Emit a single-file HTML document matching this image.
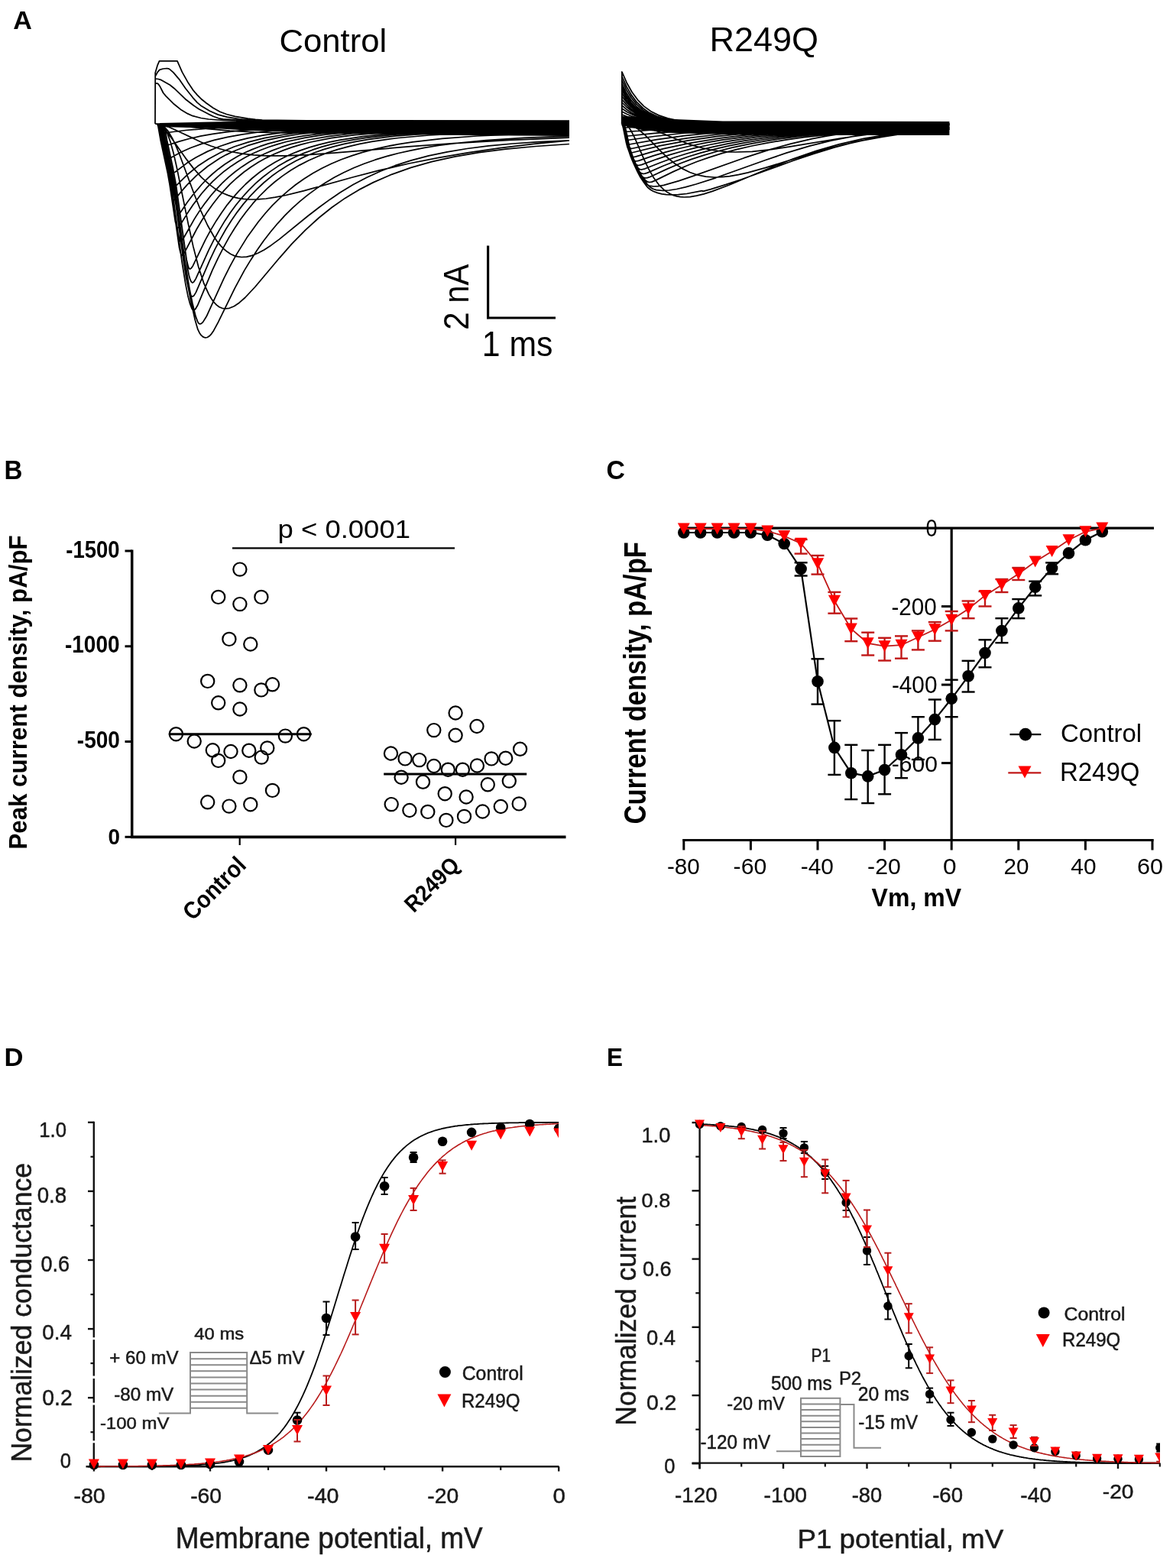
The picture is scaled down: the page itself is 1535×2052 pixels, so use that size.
<!DOCTYPE html>
<html><head><meta charset="utf-8"><title>Figure</title>
<style>
html,body{margin:0;padding:0;background:#fff;}
svg{display:block;}
text{font-family:"Liberation Sans",Arial,sans-serif;}
</style></head><body>
<svg width="1535" height="2052" viewBox="0 0 1535 2052">
<rect width="1535" height="2052" fill="#fff"/>
<text x="17.3" y="38.4" font-size="34.0" font-weight="bold" textLength="24.6" lengthAdjust="spacingAndGlyphs" fill="#000">A</text>
<text x="5.6" y="626.5" font-size="34.2" font-weight="bold" textLength="23.9" lengthAdjust="spacingAndGlyphs" fill="#000">B</text>
<text x="793.4" y="627.1" font-size="35.4" font-weight="bold" textLength="24.4" lengthAdjust="spacingAndGlyphs" fill="#000">C</text>
<text x="5.5" y="1394.5" font-size="34.0" font-weight="bold" textLength="25.0" lengthAdjust="spacingAndGlyphs" fill="#000">D</text>
<text x="793.9" y="1394.5" font-size="34.0" font-weight="bold" textLength="21.0" lengthAdjust="spacingAndGlyphs" fill="#000">E</text>
<text x="365.5" y="67.6" font-size="43.4" font-weight="normal" textLength="140.8" lengthAdjust="spacingAndGlyphs" fill="#000">Control</text>
<text x="928.6" y="67.2" font-size="44.6" font-weight="normal" textLength="142.5" lengthAdjust="spacingAndGlyphs" fill="#000">R249Q</text>
<line x1="638.6" y1="321.5" x2="638.6" y2="417.2" stroke="#000" stroke-width="3.2"/>
<line x1="637.0" y1="416.0" x2="727.0" y2="416.0" stroke="#000" stroke-width="3.2"/>
<text transform="rotate(-90)" x="-431.7" y="613.4" font-size="45.7" font-weight="normal" textLength="86.2" lengthAdjust="spacingAndGlyphs" fill="#000">2 nA</text>
<text x="630.8" y="465.5" font-size="45.8" font-weight="normal" textLength="92.7" lengthAdjust="spacingAndGlyphs" fill="#000">1 ms</text>
<polygon points="209,161 300,159 345,157.5 745,159.5 745,178 600,177 420,174.5 330,171 280,168 209,166" fill="#000"/>
<polygon points="814,152 840,153 870,155.5 946,158.5 1242.4,159 1242.4,177 1100,177 950,176 880,174 840,170 814,164" fill="#000"/>
<path d="M203.0 162.0 203.2 95.3 206.0 85.7 208.5 79.8 232.0 79.9 238.4 94.4 246.4 108.6 252.4 117.6 258.2 124.4 264.2 130.3 270.1 135.0 278.9 141.3 287.8 146.3 296.5 149.5 307.6 152.3 324.2 155.1 334.3 156.3 343.2 157.0 401.8 157.9 745.0 158.0 M203.0 162.0 203.2 99.7 206.4 94.1 208.8 91.4 213.4 90.0 218.4 89.5 220.3 89.8 222.3 90.8 226.9 94.9 235.4 104.9 242.8 115.7 252.4 127.8 258.0 134.1 262.8 138.2 274.5 145.3 285.5 150.1 297.0 153.1 313.3 155.9 326.7 157.0 398.9 157.9 745.0 158.0 M203.0 162.0 203.2 103.0 207.2 103.5 211.0 104.7 222.5 111.2 228.0 115.7 242.6 129.7 253.3 138.0 260.3 142.7 272.4 149.1 279.6 152.5 286.0 154.8 291.9 155.9 313.4 157.4 335.4 158.0 520.4 158.8 745.0 159.0 M203.0 162.0 203.2 109.0 206.0 109.2 207.2 110.0 209.2 112.9 213.6 121.5 217.2 125.9 226.5 135.2 237.5 144.1 245.8 148.9 252.2 151.7 263.0 154.5 272.9 156.0 292.2 157.5 309.0 158.0 503.4 158.8 745.0 159.0 M203.0 162.0 210.6 162.0 211.3 163.0 212.0 165.5 215.2 184.0 223.0 220.3 227.1 242.3 241.4 347.2 245.1 369.8 249.2 391.2 255.2 418.5 258.9 431.2 261.1 435.7 263.4 438.9 266.2 441.2 268.8 442.0 271.3 441.5 274.0 439.8 276.8 436.8 279.6 432.7 285.3 422.2 307.3 377.1 319.8 353.9 328.0 340.4 336.5 327.3 345.1 315.0 354.2 303.3 363.4 292.3 372.9 281.9 382.8 272.1 392.9 263.1 403.4 254.6 414.3 246.6 425.7 239.2 437.3 232.3 449.9 225.8 462.8 219.8 476.5 214.3 490.8 209.2 505.7 204.6 521.4 200.5 537.9 196.8 555.4 193.4 573.6 190.5 593.1 187.8 636.1 183.5 685.9 180.4 745.0 178.2 M203.0 162.0 212.2 162.0 212.9 163.2 213.6 165.8 216.8 184.4 224.6 220.9 228.7 243.0 242.5 344.8 248.0 377.8 251.9 397.0 256.1 414.1 258.9 421.5 260.3 423.4 261.8 424.0 263.5 423.4 265.5 421.6 270.1 414.3 293.1 364.1 300.9 348.6 308.8 334.1 323.0 311.1 338.1 290.2 347.3 279.0 356.6 268.7 366.4 259.1 376.5 250.1 386.9 241.8 397.9 234.0 409.4 226.8 421.2 220.3 433.6 214.3 446.6 208.8 460.2 203.9 474.3 199.4 489.4 195.4 505.1 191.8 522.0 188.6 539.8 185.8 578.8 181.3 624.1 178.0 678.1 175.6 745.0 174.1 M203.0 162.0 208.3 162.1 209.7 166.6 212.7 184.4 220.5 220.8 224.6 243.0 238.0 342.2 242.8 371.6 245.8 386.7 248.5 397.1 251.1 403.9 252.2 405.4 253.4 406.0 254.5 405.7 255.7 404.5 258.8 399.2 278.0 353.4 285.3 337.9 292.6 323.7 299.6 310.9 306.9 299.0 314.3 287.8 322.1 277.2 331.0 266.2 340.2 256.0 349.7 246.6 359.6 238.0 369.9 230.1 380.7 222.8 392.0 216.1 403.9 210.0 415.9 204.7 428.5 199.9 441.8 195.6 455.8 191.8 470.6 188.4 486.4 185.4 503.4 182.8 521.6 180.5 561.4 177.0 609.0 174.5 667.8 172.9 745.0 172.0 M203.0 162.0 210.3 162.0 211.0 163.1 211.7 165.7 214.9 184.3 222.8 221.5 226.9 243.8 240.0 340.5 243.5 362.6 245.8 374.2 248.0 382.3 249.9 386.6 250.8 387.6 251.9 388.0 252.9 387.6 254.0 386.6 256.5 382.4 274.2 341.1 281.4 325.9 288.7 312.1 295.7 299.8 303.0 288.3 310.4 277.6 318.2 267.4 326.9 257.2 335.9 247.8 345.3 239.0 355.2 230.8 365.5 223.4 376.1 216.7 387.3 210.5 399.1 204.9 411.0 200.0 423.4 195.7 436.5 191.8 450.4 188.3 465.3 185.3 481.1 182.6 516.1 178.2 556.1 175.2 604.3 173.1 664.3 171.8 745.0 171.0 M203.0 162.0 214.0 162.0 215.2 164.9 218.6 184.2 226.4 220.6 230.4 242.6 245.5 351.0 247.2 359.9 248.8 365.7 250.3 368.9 251.9 370.0 252.7 369.7 253.8 368.7 256.3 364.6 273.1 327.3 280.0 313.6 287.3 300.6 294.3 288.9 301.6 278.1 309.0 268.0 316.8 258.5 325.5 248.9 334.3 240.2 343.7 232.0 353.4 224.6 363.7 217.6 374.3 211.4 385.5 205.7 397.2 200.6 408.9 196.2 421.2 192.2 434.3 188.7 448.1 185.5 462.8 182.8 478.6 180.3 513.6 176.4 553.6 173.7 602.0 171.8 662.7 170.7 745.0 170.0 M203.0 162.0 214.0 162.0 215.2 164.8 218.6 184.0 226.4 220.3 230.4 242.2 244.1 339.7 246.4 349.1 247.4 351.2 248.7 352.0 250.3 351.1 252.4 347.9 268.8 313.8 275.7 301.1 283.0 288.9 290.1 278.2 297.3 268.1 305.0 258.6 312.7 249.8 321.4 241.0 330.3 233.0 339.6 225.5 349.4 218.7 359.6 212.4 370.3 206.7 381.4 201.5 393.1 196.9 404.8 192.9 417.2 189.3 430.3 186.1 444.1 183.3 474.5 178.6 509.7 175.1 549.9 172.7 598.8 171.1 660.4 170.1 745.0 169.5 M203.0 162.0 206.7 162.2 208.1 166.6 211.1 184.3 218.8 219.5 222.8 241.3 234.5 323.7 236.3 331.3 237.2 333.3 238.2 334.0 239.6 333.2 241.4 330.7 257.3 300.0 264.2 288.2 271.5 276.9 278.6 267.0 286.0 257.5 293.6 248.8 301.4 240.7 310.1 232.7 319.1 225.3 328.5 218.5 338.2 212.3 348.5 206.6 359.1 201.5 370.4 196.9 382.3 192.7 394.0 189.2 406.4 186.0 433.5 180.7 464.3 176.6 500.0 173.6 540.9 171.6 591.2 170.2 655.1 169.4 745.0 169.0 M203.0 162.0 207.4 162.1 208.8 166.2 212.0 184.6 219.5 218.9 223.2 238.4 233.3 307.3 234.9 313.8 235.7 315.5 236.6 316.0 237.9 315.2 239.3 313.3 254.5 286.4 261.4 275.6 268.5 265.6 275.7 256.3 283.2 247.6 290.8 239.7 298.8 232.2 307.4 225.0 316.3 218.4 325.7 212.3 335.4 206.7 345.7 201.5 356.5 196.9 367.8 192.7 379.6 188.9 403.7 183.0 430.6 178.3 461.4 174.7 497.4 172.0 538.4 170.2 588.9 169.0 653.5 168.3 745.0 168.0 M203.0 162.0 206.0 162.2 207.2 165.8 210.4 184.2 217.7 217.6 221.2 235.8 229.4 290.0 231.0 296.1 231.7 297.4 232.6 298.0 233.6 297.5 235.2 295.5 244.6 280.1 252.0 268.9 263.7 253.5 270.8 245.4 278.2 237.6 286.0 230.4 294.0 223.7 302.5 217.4 311.5 211.4 320.9 206.0 330.6 201.0 340.9 196.5 351.5 192.5 362.8 188.8 374.7 185.5 398.6 180.3 425.7 176.2 456.5 173.1 492.4 170.9 533.6 169.3 584.6 168.4 745.0 167.5 M203.0 162.0 209.5 162.0 210.8 164.8 214.3 184.7 224.2 231.4 231.0 273.4 232.4 278.6 233.1 279.7 233.8 280.0 234.9 279.4 236.3 277.8 244.9 265.0 252.0 255.4 263.9 241.5 271.0 234.2 278.2 227.5 285.8 221.2 293.8 215.3 302.3 209.7 311.1 204.5 320.4 199.8 329.9 195.6 340.0 191.7 350.6 188.2 373.5 182.2 397.0 177.8 423.7 174.3 454.2 171.7 489.9 169.8 531.0 168.5 582.0 167.7 745.0 167.0 M203.0 162.0 205.7 162.1 206.9 165.2 210.3 184.3 219.5 227.1 224.6 256.0 225.8 260.5 226.5 261.7 227.2 262.0 229.4 260.4 237.9 249.8 244.9 241.8 257.2 229.6 271.7 217.7 287.4 207.3 295.9 202.6 305.0 198.2 323.9 190.7 344.8 184.4 368.1 179.3 392.0 175.5 418.9 172.6 449.7 170.4 486.0 168.8 527.4 167.8 579.1 167.1 745.0 166.5 M203.0 162.0 209.7 162.0 210.6 163.6 214.5 184.7 225.7 236.8 227.2 242.5 228.0 243.6 228.7 244.0 230.6 242.9 246.2 227.7 258.6 217.6 273.1 207.9 288.8 199.5 306.4 192.0 325.3 185.9 346.2 180.7 369.6 176.5 393.5 173.5 420.4 171.1 451.2 169.2 487.4 167.9 580.4 166.5 745.0 166.0 M203.0 162.0 211.5 162.0 212.4 163.3 216.5 185.0 223.9 218.4 225.7 224.4 226.5 225.7 227.4 226.0 229.4 225.0 244.4 213.6 257.0 205.7 271.7 198.1 287.6 191.5 305.1 185.7 324.2 180.9 345.3 176.9 368.7 173.7 392.6 171.3 419.6 169.4 450.6 168.0 486.9 167.0 580.0 165.9 745.0 165.5 M203.0 162.0 208.0 162.0 208.7 163.0 209.9 168.0 212.7 184.4 216.5 201.0 218.2 206.7 218.9 207.7 219.8 208.0 221.6 207.4 236.6 199.2 249.4 193.5 264.2 188.1 280.2 183.4 297.9 179.3 317.2 175.8 338.4 173.0 361.9 170.7 386.0 169.0 413.3 167.7 481.2 166.0 575.8 165.2 745.0 165.0 M203.0 162.0 211.7 162.0 212.2 162.3 213.6 167.1 217.2 186.5 218.0 189.2 219.3 190.0 234.5 185.1 247.6 181.5 262.3 178.2 278.2 175.3 295.6 172.9 314.7 170.8 359.1 167.8 409.9 166.1 477.5 165.1 745.0 164.5 M203.0 162.0 211.3 162.2 212.4 165.2 214.0 173.2 214.7 174.0 243.0 170.5 274.7 168.0 312.0 166.1 357.5 164.9 478.2 163.7 745.0 163.5 M203.0 162.0 207.1 162.1 209.7 162.7 212.0 164.0 214.3 166.2 216.6 169.6 218.8 173.9 223.2 186.2 226.9 199.7 231.1 218.1 246.2 292.3 252.9 322.9 259.8 349.5 266.5 370.1 273.1 384.9 276.5 390.7 279.8 395.4 283.4 399.1 286.9 401.7 290.6 403.3 294.5 404.0 300.2 403.3 306.4 400.7 313.1 396.2 320.7 389.5 333.8 375.5 365.5 337.8 381.9 319.2 399.6 301.1 417.3 285.0 434.2 271.5 451.5 259.4 469.7 248.4 488.7 238.6 512.4 228.3 537.7 219.4 565.0 211.7 594.5 205.1 626.6 199.7 661.8 195.1 700.9 191.5 745.0 188.5 M203.0 162.0 206.5 162.1 209.4 162.7 212.0 163.9 214.7 165.7 220.0 171.7 225.5 180.9 230.1 190.6 235.2 203.0 254.3 254.5 262.8 275.8 271.7 295.0 280.3 310.2 284.6 316.4 288.8 321.6 293.1 326.0 297.5 329.6 301.9 332.5 306.5 334.6 311.3 335.9 316.1 336.5 322.8 336.1 329.9 334.4 337.5 331.3 345.7 326.9 354.9 320.9 365.5 313.1 402.8 282.8 418.4 270.7 431.9 260.9 445.0 252.1 462.3 241.6 480.0 232.3 498.1 224.0 517.0 216.7 538.2 209.8 560.9 203.8 585.1 198.8 611.2 194.5 639.5 190.9 670.8 188.0 705.7 185.7 745.0 183.9 M203.0 162.0 206.0 162.5 209.2 164.2 212.7 166.9 216.6 170.9 223.9 180.0 242.6 206.6 252.6 219.6 263.4 231.8 274.2 241.6 280.0 245.9 286.0 249.7 292.2 253.0 298.6 255.6 305.1 257.8 311.9 259.3 318.9 260.4 326.4 261.0 336.8 260.9 348.0 260.0 360.2 258.2 374.0 255.5 397.9 249.6 461.4 232.0 496.5 222.9 535.1 214.0 574.0 206.3 613.5 199.6 654.7 193.7 698.4 188.4 745.0 183.8 M203.0 162.0 210.8 162.9 219.8 165.8 228.8 169.7 263.2 186.0 275.9 191.0 288.5 195.0 302.3 198.5 316.8 201.1 332.2 202.8 348.7 203.8 373.1 203.9 402.3 202.6 437.0 200.1 537.7 191.7 593.5 187.6 666.4 183.4 745.0 180.1 M203.0 162.0 222.6 163.1 271.9 168.6 300.7 171.2 332.4 172.9 367.8 173.8 443.0 173.7 627.8 170.9 745.0 169.5 M813.7 162.0 813.9 94.0 820.1 108.2 827.0 120.5 834.4 130.6 842.7 139.1 851.8 145.7 862.0 150.9 873.9 154.9 887.7 157.8 900.3 159.4 915.1 160.5 956.5 161.7 1242.9 162.0 M813.7 162.0 813.9 100.0 819.9 113.4 826.3 124.4 833.3 133.7 841.3 141.5 850.0 147.6 859.9 152.3 871.2 155.9 884.5 158.4 896.5 159.8 910.7 160.8 950.7 161.8 1242.9 162.0 M813.7 162.0 813.9 105.0 819.7 117.4 826.1 127.8 833.0 136.4 840.6 143.4 849.1 148.9 858.7 153.3 869.8 156.5 882.9 158.8 894.6 160.1 908.4 160.9 947.7 161.8 1242.9 162.0 M813.7 162.0 813.9 110.0 819.5 121.3 825.7 130.9 832.5 138.8 839.9 145.2 848.2 150.3 857.6 154.2 868.4 157.1 881.1 159.2 905.9 161.0 944.5 161.8 1242.9 162.0 M813.7 162.0 813.9 114.0 819.4 124.5 825.4 133.5 831.9 140.8 839.2 146.7 847.2 151.3 856.4 155.0 867.0 157.6 879.5 159.5 903.8 161.2 941.5 161.8 1242.9 162.0 M813.7 162.0 813.9 118.0 819.5 127.6 825.7 135.7 832.5 142.4 839.9 147.8 848.2 152.1 857.6 155.4 868.4 157.9 881.1 159.6 905.9 161.2 944.5 161.8 1242.9 162.0 M813.7 162.0 813.9 122.0 819.5 130.7 825.7 138.1 832.5 144.2 839.9 149.1 848.2 153.0 857.6 156.0 868.4 158.3 881.1 159.8 905.9 161.3 944.5 161.9 1242.9 162.0 M813.7 162.0 813.9 126.0 819.7 133.8 826.1 140.4 833.0 145.8 840.6 150.2 849.1 153.8 858.7 156.5 869.8 158.5 882.9 160.0 908.4 161.3 947.7 161.9 1242.9 162.0 M813.7 162.0 813.9 130.0 819.7 136.9 826.1 142.8 833.0 147.6 840.6 151.5 849.1 154.7 858.7 157.1 869.8 158.9 882.9 160.2 908.4 161.4 947.7 161.9 1242.9 162.0 M813.7 162.0 813.9 134.0 819.9 140.0 826.3 145.0 833.3 149.2 841.3 152.7 850.0 155.5 859.9 157.6 871.2 159.2 884.5 160.4 910.7 161.4 950.7 161.9 1242.9 162.0 M813.7 162.0 813.9 138.0 819.9 143.2 826.3 147.4 833.3 151.1 841.3 154.1 850.0 156.4 859.9 158.3 871.2 159.6 884.5 160.6 910.7 161.5 950.7 161.9 1242.9 162.0 M813.7 162.0 813.9 142.0 820.1 146.2 827.0 149.8 834.4 152.8 842.7 155.3 851.8 157.2 862.0 158.7 887.7 160.8 915.1 161.6 956.5 161.9 1242.9 162.0 M813.7 162.0 813.9 146.0 820.1 149.3 827.0 152.2 834.4 154.6 842.7 156.6 862.0 159.4 887.7 161.0 915.1 161.6 956.5 161.9 1242.9 162.0 M813.7 162.0 813.9 150.0 820.4 152.5 827.7 154.6 844.1 157.9 864.3 160.0 890.9 161.2 962.2 161.9 1242.9 162.0 M813.7 162.0 813.9 154.0 828.6 157.0 846.1 159.2 867.5 160.6 895.3 161.4 970.2 161.9 1242.9 162.0 M813.7 162.0 813.9 158.0 830.2 159.5 849.3 160.5 902.2 161.7 1242.9 162.0 M813.7 162.0 814.8 163.4 815.8 166.6 821.0 191.6 825.0 203.9 828.9 213.5 834.1 224.6 837.9 231.8 842.4 238.6 845.7 243.1 848.7 246.3 851.6 248.5 855.3 250.5 860.3 252.4 866.1 253.8 871.9 254.7 878.1 255.0 887.7 254.7 898.7 253.5 918.8 249.7 919.7 250.1 921.0 250.1 930.2 247.6 949.5 241.7 970.3 234.8 1038.1 210.3 1064.5 201.3 1092.1 192.8 1118.7 185.9 1147.2 179.8 1176.7 174.9 1208.2 171.0 1242.9 168.0 M813.7 162.0 816.2 162.1 817.2 163.8 819.0 170.4 822.9 190.0 825.4 198.3 832.6 216.6 836.9 225.5 840.6 232.1 847.0 241.1 849.6 244.0 852.1 245.9 855.3 247.5 858.8 248.6 867.7 249.5 875.7 249.0 885.4 247.5 896.9 244.8 910.9 241.0 936.5 232.8 1001.0 209.7 1029.1 200.2 1059.2 191.2 1088.4 183.9 1122.2 177.4 1158.1 172.3 1197.6 168.5 1242.9 165.8 M813.7 162.0 814.8 163.5 816.0 167.5 820.2 188.6 822.2 195.7 827.3 209.6 834.2 224.6 839.2 233.1 842.4 237.4 845.2 240.4 847.3 242.0 849.6 243.1 855.6 244.0 861.3 243.6 868.6 242.3 888.6 236.6 912.1 228.7 973.7 206.7 1007.0 195.9 1035.0 188.1 1062.7 181.7 1081.3 178.2 1100.4 175.1 1120.3 172.5 1141.3 170.2 1187.7 166.8 1242.9 164.4 M813.7 162.0 816.4 162.1 817.6 164.3 819.0 169.6 824.0 193.4 828.6 206.5 834.4 220.0 838.8 228.6 842.6 234.0 846.3 237.4 848.0 238.2 849.8 238.5 852.8 238.1 857.1 236.4 881.1 224.6 897.8 217.2 912.1 211.5 926.8 206.4 944.9 200.7 963.8 195.6 983.8 191.0 1004.9 186.9 1027.7 183.1 1052.1 179.7 1078.1 176.8 1105.9 174.2 1168.4 170.1 1242.9 167.3 M813.7 162.0 815.1 162.3 816.4 165.1 822.2 192.5 825.7 202.9 829.8 212.9 834.4 222.7 837.9 228.6 841.3 231.9 843.1 232.7 844.9 233.0 847.3 232.7 850.7 231.5 873.0 221.1 889.8 214.0 904.9 208.4 920.4 203.3 938.8 198.0 958.3 193.1 978.7 188.8 1000.3 184.8 1023.4 181.3 1048.2 178.2 1074.6 175.5 1103.1 173.1 1166.6 169.3 1242.9 166.7 M813.7 162.0 815.5 162.3 816.7 164.9 822.6 192.1 825.6 201.1 829.3 210.5 833.2 219.0 836.2 224.1 838.8 226.7 841.8 227.5 844.1 227.2 847.3 226.1 868.2 217.0 885.4 210.3 900.8 205.0 916.7 200.1 935.3 195.2 954.9 190.7 975.7 186.6 997.4 183.0 1020.8 179.7 1045.7 176.8 1072.5 174.3 1101.1 172.1 1165.6 168.7 1242.9 166.3 M813.7 162.0 815.8 162.1 817.2 164.8 823.1 191.9 829.1 208.6 832.1 215.1 834.6 219.3 836.7 221.3 839.2 222.0 844.1 220.8 864.3 212.7 881.3 206.5 897.1 201.5 913.5 196.9 932.3 192.3 952.1 188.2 973.0 184.4 994.9 181.1 1018.7 178.1 1043.8 175.5 1099.6 171.2 1164.7 168.0 1242.9 165.8 M813.7 162.0 814.8 162.0 815.3 162.4 816.5 165.3 822.0 191.1 826.6 204.5 829.1 210.2 831.2 213.8 833.2 215.8 835.5 216.5 839.5 215.6 859.4 208.3 876.4 202.7 892.5 198.0 909.3 193.7 928.4 189.5 948.4 185.7 969.5 182.3 991.8 179.2 1041.0 174.1 1097.4 170.2 1163.5 167.4 1242.9 165.4 M813.7 162.0 814.8 162.8 816.0 166.2 821.0 189.9 824.3 200.3 826.4 205.5 828.2 208.7 830.0 210.4 832.1 211.0 835.6 210.3 854.8 203.9 871.8 198.8 888.2 194.5 905.6 190.5 924.9 186.7 945.0 183.2 988.9 177.4 1038.7 172.8 1095.7 169.3 1162.4 166.7 1242.9 165.0 M813.7 162.1 814.8 163.6 815.8 167.0 820.4 189.2 822.7 196.8 825.9 203.7 827.3 205.1 829.1 205.5 832.3 204.9 851.0 199.3 868.2 194.7 902.4 187.3 942.2 180.8 986.5 175.6 1036.5 171.5 1094.1 168.4 1161.3 166.1 1242.9 164.6 M813.7 162.4 814.8 164.6 815.8 168.5 819.5 186.8 821.1 193.0 823.6 198.5 824.9 199.7 826.3 200.0 864.5 190.7 899.2 184.1 939.2 178.4 984.0 173.8 1034.4 170.2 1092.3 167.5 1160.3 165.6 1242.9 164.2 M813.7 162.0 815.8 162.2 816.9 164.0 818.5 169.8 822.9 190.7 824.5 193.7 826.4 194.5 863.6 186.7 898.8 180.9 939.0 176.0 983.8 172.1 1034.2 169.0 1092.3 166.7 1160.3 165.0 1242.9 163.9 M813.7 162.0 814.6 162.0 815.1 162.6 816.4 165.6 821.1 187.2 822.0 188.7 823.3 189.0 859.7 182.6 895.5 177.7 936.0 173.6 981.1 170.3 1031.9 167.8 1090.5 165.9 1159.2 164.5 1242.9 163.6 M813.7 162.1 814.6 163.4 815.6 166.6 819.0 181.9 819.7 183.3 820.6 183.5 856.0 178.5 892.5 174.5 933.2 171.2 978.8 168.6 1030.0 166.6 1088.9 165.0 1158.3 164.0 1242.9 163.2 M813.7 162.0 816.2 162.1 817.1 163.2 818.5 167.6 820.6 177.0 821.0 177.7 821.7 178.0 856.7 174.3 893.2 171.3 933.9 168.9 979.5 166.9 1030.5 165.4 1089.5 164.3 1242.9 162.9 M813.7 162.0 814.4 162.4 815.1 163.7 817.4 171.9 818.3 172.5 852.8 170.1 889.8 168.1 976.9 165.2 1087.7 163.5 1242.9 162.6 M813.7 162.0 814.9 162.4 816.7 166.8 817.2 167.0 888.7 164.9 976.0 163.5 1087.2 162.7 1242.9 162.3 M813.7 162.0 817.1 162.3 819.9 163.8 822.7 166.6 825.6 170.7 830.7 180.7 842.7 208.3 848.7 220.9 855.3 232.4 862.0 241.6 869.3 248.8 873.2 251.6 877.1 253.8 881.3 255.6 885.7 256.9 890.3 257.7 895.3 258.0 903.1 257.6 911.6 256.2 921.1 253.9 932.1 250.4 953.9 242.2 1010.0 218.8 1038.1 207.8 1068.4 197.3 1097.8 188.8 1130.0 181.4 1164.2 175.6 1201.3 171.0 1242.9 167.6 M813.7 162.0 819.7 162.3 824.7 163.4 829.8 165.6 835.1 169.0 844.5 177.2 864.1 197.4 873.3 206.2 883.3 214.3 892.8 220.6 902.7 225.5 912.8 229.0 923.6 231.2 934.9 232.0 944.5 231.7 954.9 230.7 966.3 228.7 978.8 225.9 1001.3 219.7 1051.9 203.9 1076.7 196.6 1103.1 189.7 1128.8 184.0 1155.1 179.1 1182.6 175.0 1211.6 171.7 1242.9 168.9 M813.7 162.0 822.4 162.2 829.6 162.8 836.9 164.1 844.5 166.1 858.0 170.9 895.3 186.3 907.0 190.3 918.3 193.5 929.1 195.8 939.9 197.5 951.1 198.6 962.6 199.0 984.3 198.3 1009.3 195.7 1032.5 192.2 1102.9 180.5 1149.5 174.2 1194.1 169.9 1242.9 166.7 M813.7 162.0 834.2 162.3 853.0 163.6 915.1 171.5 940.8 174.0 963.4 175.4 986.8 176.0 1008.6 175.8 1032.8 175.0 1159.0 167.6 1199.9 165.8 1242.9 164.5" fill="none" stroke="#000" stroke-width="1.75" stroke-linejoin="round"/>
<line x1="172.7" y1="719.5" x2="172.7" y2="1097.0" stroke="#000" stroke-width="3.5"/>
<line x1="171.0" y1="1095.3" x2="740.5" y2="1095.3" stroke="#000" stroke-width="3.8"/>
<line x1="163.5" y1="721.0" x2="172.7" y2="721.0" stroke="#000" stroke-width="3"/>
<line x1="163.5" y1="845.8" x2="172.7" y2="845.8" stroke="#000" stroke-width="3"/>
<line x1="163.5" y1="970.5" x2="172.7" y2="970.5" stroke="#000" stroke-width="3"/>
<line x1="163.5" y1="1095.3" x2="172.7" y2="1095.3" stroke="#000" stroke-width="3"/>
<line x1="313.7" y1="1095.0" x2="313.7" y2="1106.0" stroke="#000" stroke-width="2.2"/>
<line x1="596.1" y1="1095.0" x2="596.1" y2="1106.0" stroke="#000" stroke-width="2.2"/>
<text x="86.3" y="729.5" font-size="31.8" font-weight="bold" textLength="70.3" lengthAdjust="spacingAndGlyphs" fill="#000">-1500</text>
<text x="84.9" y="854.2" font-size="31.8" font-weight="bold" textLength="71.7" lengthAdjust="spacingAndGlyphs" fill="#000">-1000</text>
<text x="100.8" y="979.4" font-size="30.8" font-weight="bold" textLength="56.1" lengthAdjust="spacingAndGlyphs" fill="#000">-500</text>
<text x="141.4" y="1104.5" font-size="29.7" font-weight="bold" textLength="15.5" lengthAdjust="spacingAndGlyphs" fill="#000">0</text>
<text transform="rotate(-90)" x="-1111.6" y="34.8" font-size="33.1" font-weight="bold" textLength="411.2" lengthAdjust="spacingAndGlyphs" fill="#000">Peak current density, pA/pF</text>
<line x1="304.0" y1="717.4" x2="595.0" y2="717.4" stroke="#000" stroke-width="2.2"/>
<text x="363.5" y="703.7" font-size="34.0" font-weight="normal" textLength="173.5" lengthAdjust="spacingAndGlyphs" fill="#000">p &lt; 0.0001</text>
<text transform="rotate(-45 324.0 1134.0)" x="324.0" y="1134.0" text-anchor="end" font-size="31.5" font-weight="bold" textLength="102" lengthAdjust="spacingAndGlyphs">Control</text>
<text transform="rotate(-45 603.0 1134.0)" x="603.0" y="1134.0" text-anchor="end" font-size="30" font-weight="bold" textLength="87" lengthAdjust="spacingAndGlyphs">R249Q</text>
<circle cx="313.9" cy="745.1" r="8.6" fill="none" stroke="#000" stroke-width="2.2"/>
<circle cx="285.7" cy="781.4" r="8.6" fill="none" stroke="#000" stroke-width="2.2"/>
<circle cx="313.9" cy="790.6" r="8.6" fill="none" stroke="#000" stroke-width="2.2"/>
<circle cx="341.9" cy="781.4" r="8.6" fill="none" stroke="#000" stroke-width="2.2"/>
<circle cx="299.9" cy="836.4" r="8.6" fill="none" stroke="#000" stroke-width="2.2"/>
<circle cx="327.8" cy="843.0" r="8.6" fill="none" stroke="#000" stroke-width="2.2"/>
<circle cx="271.7" cy="891.4" r="8.6" fill="none" stroke="#000" stroke-width="2.2"/>
<circle cx="313.9" cy="896.8" r="8.6" fill="none" stroke="#000" stroke-width="2.2"/>
<circle cx="341.9" cy="902.9" r="8.6" fill="none" stroke="#000" stroke-width="2.2"/>
<circle cx="356.5" cy="895.8" r="8.6" fill="none" stroke="#000" stroke-width="2.2"/>
<circle cx="285.7" cy="919.8" r="8.6" fill="none" stroke="#000" stroke-width="2.2"/>
<circle cx="313.9" cy="928.0" r="8.6" fill="none" stroke="#000" stroke-width="2.2"/>
<circle cx="230.4" cy="960.7" r="8.6" fill="none" stroke="#000" stroke-width="2.2"/>
<circle cx="254.2" cy="970.0" r="8.6" fill="none" stroke="#000" stroke-width="2.2"/>
<circle cx="278.3" cy="981.8" r="8.6" fill="none" stroke="#000" stroke-width="2.2"/>
<circle cx="302.0" cy="983.5" r="8.6" fill="none" stroke="#000" stroke-width="2.2"/>
<circle cx="325.8" cy="982.2" r="8.6" fill="none" stroke="#000" stroke-width="2.2"/>
<circle cx="349.8" cy="978.9" r="8.6" fill="none" stroke="#000" stroke-width="2.2"/>
<circle cx="285.7" cy="995.4" r="8.6" fill="none" stroke="#000" stroke-width="2.2"/>
<circle cx="342.2" cy="991.1" r="8.6" fill="none" stroke="#000" stroke-width="2.2"/>
<circle cx="373.4" cy="963.1" r="8.6" fill="none" stroke="#000" stroke-width="2.2"/>
<circle cx="397.5" cy="960.7" r="8.6" fill="none" stroke="#000" stroke-width="2.2"/>
<circle cx="313.9" cy="1016.9" r="8.6" fill="none" stroke="#000" stroke-width="2.2"/>
<circle cx="356.5" cy="1034.4" r="8.6" fill="none" stroke="#000" stroke-width="2.2"/>
<circle cx="271.7" cy="1049.8" r="8.6" fill="none" stroke="#000" stroke-width="2.2"/>
<circle cx="299.9" cy="1055.1" r="8.6" fill="none" stroke="#000" stroke-width="2.2"/>
<circle cx="327.8" cy="1052.7" r="8.6" fill="none" stroke="#000" stroke-width="2.2"/>
<circle cx="596.1" cy="933.0" r="8.6" fill="none" stroke="#000" stroke-width="2.2"/>
<circle cx="567.8" cy="955.6" r="8.6" fill="none" stroke="#000" stroke-width="2.2"/>
<circle cx="596.1" cy="962.3" r="8.6" fill="none" stroke="#000" stroke-width="2.2"/>
<circle cx="624.0" cy="950.5" r="8.6" fill="none" stroke="#000" stroke-width="2.2"/>
<circle cx="511.5" cy="986.0" r="8.6" fill="none" stroke="#000" stroke-width="2.2"/>
<circle cx="530.1" cy="992.9" r="8.6" fill="none" stroke="#000" stroke-width="2.2"/>
<circle cx="548.8" cy="994.6" r="8.6" fill="none" stroke="#000" stroke-width="2.2"/>
<circle cx="567.8" cy="1002.5" r="8.6" fill="none" stroke="#000" stroke-width="2.2"/>
<circle cx="586.3" cy="1007.2" r="8.6" fill="none" stroke="#000" stroke-width="2.2"/>
<circle cx="605.4" cy="1007.2" r="8.6" fill="none" stroke="#000" stroke-width="2.2"/>
<circle cx="624.4" cy="1002.0" r="8.6" fill="none" stroke="#000" stroke-width="2.2"/>
<circle cx="643.1" cy="992.9" r="8.6" fill="none" stroke="#000" stroke-width="2.2"/>
<circle cx="661.7" cy="992.2" r="8.6" fill="none" stroke="#000" stroke-width="2.2"/>
<circle cx="680.6" cy="980.3" r="8.6" fill="none" stroke="#000" stroke-width="2.2"/>
<circle cx="525.1" cy="1017.2" r="8.6" fill="none" stroke="#000" stroke-width="2.2"/>
<circle cx="553.5" cy="1023.3" r="8.6" fill="none" stroke="#000" stroke-width="2.2"/>
<circle cx="638.3" cy="1026.8" r="8.6" fill="none" stroke="#000" stroke-width="2.2"/>
<circle cx="666.3" cy="1022.1" r="8.6" fill="none" stroke="#000" stroke-width="2.2"/>
<circle cx="582.2" cy="1038.7" r="8.6" fill="none" stroke="#000" stroke-width="2.2"/>
<circle cx="610.1" cy="1043.0" r="8.6" fill="none" stroke="#000" stroke-width="2.2"/>
<circle cx="512.2" cy="1052.6" r="8.6" fill="none" stroke="#000" stroke-width="2.2"/>
<circle cx="535.9" cy="1060.5" r="8.6" fill="none" stroke="#000" stroke-width="2.2"/>
<circle cx="559.8" cy="1062.4" r="8.6" fill="none" stroke="#000" stroke-width="2.2"/>
<circle cx="583.9" cy="1073.4" r="8.6" fill="none" stroke="#000" stroke-width="2.2"/>
<circle cx="607.5" cy="1068.4" r="8.6" fill="none" stroke="#000" stroke-width="2.2"/>
<circle cx="631.5" cy="1062.0" r="8.6" fill="none" stroke="#000" stroke-width="2.2"/>
<circle cx="655.3" cy="1055.5" r="8.6" fill="none" stroke="#000" stroke-width="2.2"/>
<circle cx="679.2" cy="1051.9" r="8.6" fill="none" stroke="#000" stroke-width="2.2"/>
<line x1="220.8" y1="960.7" x2="407.8" y2="960.7" stroke="#000" stroke-width="3"/>
<line x1="502.2" y1="1013.0" x2="689.2" y2="1013.0" stroke="#000" stroke-width="3"/>
<line x1="893.0" y1="691.1" x2="1510.0" y2="691.1" stroke="#000" stroke-width="3.2"/>
<line x1="1245.2" y1="691.1" x2="1245.2" y2="1101.0" stroke="#000" stroke-width="3.2"/>
<line x1="893.5" y1="1099.5" x2="1509.5" y2="1099.5" stroke="#000" stroke-width="3.2"/>
<line x1="894.8" y1="1098.0" x2="894.8" y2="1112.5" stroke="#000" stroke-width="3"/>
<line x1="982.4" y1="1098.0" x2="982.4" y2="1112.5" stroke="#000" stroke-width="3"/>
<line x1="1070.0" y1="1098.0" x2="1070.0" y2="1112.5" stroke="#000" stroke-width="3"/>
<line x1="1157.6" y1="1098.0" x2="1157.6" y2="1112.5" stroke="#000" stroke-width="3"/>
<line x1="1245.2" y1="1098.0" x2="1245.2" y2="1112.5" stroke="#000" stroke-width="3"/>
<line x1="1332.8" y1="1098.0" x2="1332.8" y2="1112.5" stroke="#000" stroke-width="3"/>
<line x1="1420.4" y1="1098.0" x2="1420.4" y2="1112.5" stroke="#000" stroke-width="3"/>
<line x1="1508.0" y1="1098.0" x2="1508.0" y2="1112.5" stroke="#000" stroke-width="3"/>
<line x1="1232.0" y1="793.6" x2="1245.2" y2="793.6" stroke="#000" stroke-width="3"/>
<line x1="1232.0" y1="896.1" x2="1245.2" y2="896.1" stroke="#000" stroke-width="3"/>
<line x1="1232.0" y1="998.6" x2="1245.2" y2="998.6" stroke="#000" stroke-width="3"/>
<text x="873.0" y="1144.1" font-size="29.8" font-weight="normal" textLength="42.8" lengthAdjust="spacingAndGlyphs" fill="#000">-80</text>
<text x="959.6" y="1144.1" font-size="29.8" font-weight="normal" textLength="43.6" lengthAdjust="spacingAndGlyphs" fill="#000">-60</text>
<text x="1047.7" y="1144.1" font-size="29.8" font-weight="normal" textLength="43.2" lengthAdjust="spacingAndGlyphs" fill="#000">-40</text>
<text x="1135.1" y="1144.1" font-size="29.8" font-weight="normal" textLength="43.6" lengthAdjust="spacingAndGlyphs" fill="#000">-20</text>
<text x="1234.0" y="1144.1" font-size="29.8" font-weight="normal" textLength="17.6" lengthAdjust="spacingAndGlyphs" fill="#000">0</text>
<text x="1313.5" y="1144.1" font-size="29.8" font-weight="normal" textLength="33.0" lengthAdjust="spacingAndGlyphs" fill="#000">20</text>
<text x="1401.3" y="1144.1" font-size="29.8" font-weight="normal" textLength="33.2" lengthAdjust="spacingAndGlyphs" fill="#000">40</text>
<text x="1488.1" y="1144.1" font-size="29.8" font-weight="normal" textLength="33.9" lengthAdjust="spacingAndGlyphs" fill="#000">60</text>
<text x="1140.6" y="1186.0" font-size="33.2" font-weight="bold" textLength="117.5" lengthAdjust="spacingAndGlyphs" fill="#000">Vm, mV</text>
<text x="1211.4" y="702.2" font-size="31.4" font-weight="normal" textLength="15.1" lengthAdjust="spacingAndGlyphs" fill="#000">0</text>
<text x="1166.4" y="805.4" font-size="32.1" font-weight="normal" textLength="59.3" lengthAdjust="spacingAndGlyphs" fill="#000">-200</text>
<text x="1166.9" y="907.2" font-size="31.4" font-weight="normal" textLength="59.6" lengthAdjust="spacingAndGlyphs" fill="#000">-400</text>
<text x="1166.8" y="1010.4" font-size="30.3" font-weight="normal" textLength="60.3" lengthAdjust="spacingAndGlyphs" fill="#000">-600</text>
<text transform="rotate(-90)" x="-1078.4" y="844.8" font-size="40.3" font-weight="bold" textLength="369.2" lengthAdjust="spacingAndGlyphs" fill="#000">Current density, pA/pF</text>
<line x1="1048.1" y1="736.3" x2="1048.1" y2="753.5" stroke="#000" stroke-width="2.4"/>
<line x1="1039.6" y1="736.3" x2="1056.6" y2="736.3" stroke="#000" stroke-width="2.4"/>
<line x1="1039.6" y1="753.5" x2="1056.6" y2="753.5" stroke="#000" stroke-width="2.4"/>
<line x1="1070.0" y1="862.3" x2="1070.0" y2="921.6" stroke="#000" stroke-width="2.4"/>
<line x1="1061.5" y1="862.3" x2="1078.5" y2="862.3" stroke="#000" stroke-width="2.4"/>
<line x1="1061.5" y1="921.6" x2="1078.5" y2="921.6" stroke="#000" stroke-width="2.4"/>
<line x1="1091.9" y1="943.2" x2="1091.9" y2="1013.9" stroke="#000" stroke-width="2.4"/>
<line x1="1083.4" y1="943.2" x2="1100.4" y2="943.2" stroke="#000" stroke-width="2.4"/>
<line x1="1083.4" y1="1013.9" x2="1100.4" y2="1013.9" stroke="#000" stroke-width="2.4"/>
<line x1="1113.8" y1="974.8" x2="1113.8" y2="1046.1" stroke="#000" stroke-width="2.4"/>
<line x1="1105.3" y1="974.8" x2="1122.3" y2="974.8" stroke="#000" stroke-width="2.4"/>
<line x1="1105.3" y1="1046.1" x2="1122.3" y2="1046.1" stroke="#000" stroke-width="2.4"/>
<line x1="1135.7" y1="982.0" x2="1135.7" y2="1051.1" stroke="#000" stroke-width="2.4"/>
<line x1="1127.2" y1="982.0" x2="1144.2" y2="982.0" stroke="#000" stroke-width="2.4"/>
<line x1="1127.2" y1="1051.1" x2="1144.2" y2="1051.1" stroke="#000" stroke-width="2.4"/>
<line x1="1157.6" y1="974.8" x2="1157.6" y2="1039.3" stroke="#000" stroke-width="2.4"/>
<line x1="1149.1" y1="974.8" x2="1166.1" y2="974.8" stroke="#000" stroke-width="2.4"/>
<line x1="1149.1" y1="1039.3" x2="1166.1" y2="1039.3" stroke="#000" stroke-width="2.4"/>
<line x1="1179.5" y1="959.1" x2="1179.5" y2="1018.2" stroke="#000" stroke-width="2.4"/>
<line x1="1171.0" y1="959.1" x2="1188.0" y2="959.1" stroke="#000" stroke-width="2.4"/>
<line x1="1171.0" y1="1018.2" x2="1188.0" y2="1018.2" stroke="#000" stroke-width="2.4"/>
<line x1="1201.4" y1="938.2" x2="1201.4" y2="994.0" stroke="#000" stroke-width="2.4"/>
<line x1="1192.9" y1="938.2" x2="1209.9" y2="938.2" stroke="#000" stroke-width="2.4"/>
<line x1="1192.9" y1="994.0" x2="1209.9" y2="994.0" stroke="#000" stroke-width="2.4"/>
<line x1="1223.3" y1="915.5" x2="1223.3" y2="967.9" stroke="#000" stroke-width="2.4"/>
<line x1="1214.8" y1="915.5" x2="1231.8" y2="915.5" stroke="#000" stroke-width="2.4"/>
<line x1="1214.8" y1="967.9" x2="1231.8" y2="967.9" stroke="#000" stroke-width="2.4"/>
<line x1="1245.2" y1="889.7" x2="1245.2" y2="938.2" stroke="#000" stroke-width="2.4"/>
<line x1="1236.7" y1="889.7" x2="1253.7" y2="889.7" stroke="#000" stroke-width="2.4"/>
<line x1="1236.7" y1="938.2" x2="1253.7" y2="938.2" stroke="#000" stroke-width="2.4"/>
<line x1="1267.1" y1="864.8" x2="1267.1" y2="905.5" stroke="#000" stroke-width="2.4"/>
<line x1="1258.6" y1="864.8" x2="1275.6" y2="864.8" stroke="#000" stroke-width="2.4"/>
<line x1="1258.6" y1="905.5" x2="1275.6" y2="905.5" stroke="#000" stroke-width="2.4"/>
<line x1="1289.0" y1="837.3" x2="1289.0" y2="873.3" stroke="#000" stroke-width="2.4"/>
<line x1="1280.5" y1="837.3" x2="1297.5" y2="837.3" stroke="#000" stroke-width="2.4"/>
<line x1="1280.5" y1="873.3" x2="1297.5" y2="873.3" stroke="#000" stroke-width="2.4"/>
<line x1="1310.9" y1="809.2" x2="1310.9" y2="841.2" stroke="#000" stroke-width="2.4"/>
<line x1="1302.4" y1="809.2" x2="1319.4" y2="809.2" stroke="#000" stroke-width="2.4"/>
<line x1="1302.4" y1="841.2" x2="1319.4" y2="841.2" stroke="#000" stroke-width="2.4"/>
<line x1="1332.8" y1="784.1" x2="1332.8" y2="809.2" stroke="#000" stroke-width="2.4"/>
<line x1="1324.3" y1="784.1" x2="1341.3" y2="784.1" stroke="#000" stroke-width="2.4"/>
<line x1="1324.3" y1="809.2" x2="1341.3" y2="809.2" stroke="#000" stroke-width="2.4"/>
<line x1="1354.7" y1="760.7" x2="1354.7" y2="779.4" stroke="#000" stroke-width="2.4"/>
<line x1="1346.2" y1="760.7" x2="1363.2" y2="760.7" stroke="#000" stroke-width="2.4"/>
<line x1="1346.2" y1="779.4" x2="1363.2" y2="779.4" stroke="#000" stroke-width="2.4"/>
<line x1="1376.6" y1="736.4" x2="1376.6" y2="751.3" stroke="#000" stroke-width="2.4"/>
<line x1="1368.1" y1="736.4" x2="1385.1" y2="736.4" stroke="#000" stroke-width="2.4"/>
<line x1="1368.1" y1="751.3" x2="1385.1" y2="751.3" stroke="#000" stroke-width="2.4"/>
<polyline points="894.8,697.0 916.7,697.0 938.6,697.0 960.5,697.0 982.4,697.0 1004.3,700.2 1026.2,711.5 1048.1,744.5 1070.0,891.8 1091.9,978.4 1113.8,1011.7 1135.7,1015.9 1157.6,1007.6 1179.5,987.7 1201.4,965.9 1223.3,941.6 1245.2,914.3 1267.1,884.8 1289.0,854.5 1310.9,825.6 1332.8,795.9 1354.7,768.2 1376.6,743.5 1398.5,723.9 1420.4,706.7 1442.3,695.8" fill="none" stroke="#000" stroke-width="2.2"/>
<circle cx="894.8" cy="697.0" r="7.8" fill="#000" stroke="none" stroke-width="0"/>
<circle cx="916.7" cy="697.0" r="7.8" fill="#000" stroke="none" stroke-width="0"/>
<circle cx="938.6" cy="697.0" r="7.8" fill="#000" stroke="none" stroke-width="0"/>
<circle cx="960.5" cy="697.0" r="7.8" fill="#000" stroke="none" stroke-width="0"/>
<circle cx="982.4" cy="697.0" r="7.8" fill="#000" stroke="none" stroke-width="0"/>
<circle cx="1004.3" cy="700.2" r="7.8" fill="#000" stroke="none" stroke-width="0"/>
<circle cx="1026.2" cy="711.5" r="7.8" fill="#000" stroke="none" stroke-width="0"/>
<circle cx="1048.1" cy="744.5" r="7.8" fill="#000" stroke="none" stroke-width="0"/>
<circle cx="1070.0" cy="891.8" r="7.8" fill="#000" stroke="none" stroke-width="0"/>
<circle cx="1091.9" cy="978.4" r="7.8" fill="#000" stroke="none" stroke-width="0"/>
<circle cx="1113.8" cy="1011.7" r="7.8" fill="#000" stroke="none" stroke-width="0"/>
<circle cx="1135.7" cy="1015.9" r="7.8" fill="#000" stroke="none" stroke-width="0"/>
<circle cx="1157.6" cy="1007.6" r="7.8" fill="#000" stroke="none" stroke-width="0"/>
<circle cx="1179.5" cy="987.7" r="7.8" fill="#000" stroke="none" stroke-width="0"/>
<circle cx="1201.4" cy="965.9" r="7.8" fill="#000" stroke="none" stroke-width="0"/>
<circle cx="1223.3" cy="941.6" r="7.8" fill="#000" stroke="none" stroke-width="0"/>
<circle cx="1245.2" cy="914.3" r="7.8" fill="#000" stroke="none" stroke-width="0"/>
<circle cx="1267.1" cy="884.8" r="7.8" fill="#000" stroke="none" stroke-width="0"/>
<circle cx="1289.0" cy="854.5" r="7.8" fill="#000" stroke="none" stroke-width="0"/>
<circle cx="1310.9" cy="825.6" r="7.8" fill="#000" stroke="none" stroke-width="0"/>
<circle cx="1332.8" cy="795.9" r="7.8" fill="#000" stroke="none" stroke-width="0"/>
<circle cx="1354.7" cy="768.2" r="7.8" fill="#000" stroke="none" stroke-width="0"/>
<circle cx="1376.6" cy="743.5" r="7.8" fill="#000" stroke="none" stroke-width="0"/>
<circle cx="1398.5" cy="723.9" r="7.8" fill="#000" stroke="none" stroke-width="0"/>
<circle cx="1420.4" cy="706.7" r="7.8" fill="#000" stroke="none" stroke-width="0"/>
<circle cx="1442.3" cy="695.8" r="7.8" fill="#000" stroke="none" stroke-width="0"/>
<line x1="1048.1" y1="706.0" x2="1048.1" y2="724.6" stroke="#c01818" stroke-width="2.4"/>
<line x1="1039.6" y1="706.0" x2="1056.6" y2="706.0" stroke="#c01818" stroke-width="2.4"/>
<line x1="1039.6" y1="724.6" x2="1056.6" y2="724.6" stroke="#c01818" stroke-width="2.4"/>
<line x1="1070.0" y1="727.0" x2="1070.0" y2="751.6" stroke="#c01818" stroke-width="2.4"/>
<line x1="1061.5" y1="727.0" x2="1078.5" y2="727.0" stroke="#c01818" stroke-width="2.4"/>
<line x1="1061.5" y1="751.6" x2="1078.5" y2="751.6" stroke="#c01818" stroke-width="2.4"/>
<line x1="1091.9" y1="774.9" x2="1091.9" y2="802.7" stroke="#c01818" stroke-width="2.4"/>
<line x1="1083.4" y1="774.9" x2="1100.4" y2="774.9" stroke="#c01818" stroke-width="2.4"/>
<line x1="1083.4" y1="802.7" x2="1100.4" y2="802.7" stroke="#c01818" stroke-width="2.4"/>
<line x1="1113.8" y1="809.5" x2="1113.8" y2="839.2" stroke="#c01818" stroke-width="2.4"/>
<line x1="1105.3" y1="809.5" x2="1122.3" y2="809.5" stroke="#c01818" stroke-width="2.4"/>
<line x1="1105.3" y1="839.2" x2="1122.3" y2="839.2" stroke="#c01818" stroke-width="2.4"/>
<line x1="1135.7" y1="827.7" x2="1135.7" y2="857.5" stroke="#c01818" stroke-width="2.4"/>
<line x1="1127.2" y1="827.7" x2="1144.2" y2="827.7" stroke="#c01818" stroke-width="2.4"/>
<line x1="1127.2" y1="857.5" x2="1144.2" y2="857.5" stroke="#c01818" stroke-width="2.4"/>
<line x1="1157.6" y1="834.8" x2="1157.6" y2="864.5" stroke="#c01818" stroke-width="2.4"/>
<line x1="1149.1" y1="834.8" x2="1166.1" y2="834.8" stroke="#c01818" stroke-width="2.4"/>
<line x1="1149.1" y1="864.5" x2="1166.1" y2="864.5" stroke="#c01818" stroke-width="2.4"/>
<line x1="1179.5" y1="832.4" x2="1179.5" y2="861.7" stroke="#c01818" stroke-width="2.4"/>
<line x1="1171.0" y1="832.4" x2="1188.0" y2="832.4" stroke="#c01818" stroke-width="2.4"/>
<line x1="1171.0" y1="861.7" x2="1188.0" y2="861.7" stroke="#c01818" stroke-width="2.4"/>
<line x1="1201.4" y1="825.4" x2="1201.4" y2="850.4" stroke="#c01818" stroke-width="2.4"/>
<line x1="1192.9" y1="825.4" x2="1209.9" y2="825.4" stroke="#c01818" stroke-width="2.4"/>
<line x1="1192.9" y1="850.4" x2="1209.9" y2="850.4" stroke="#c01818" stroke-width="2.4"/>
<line x1="1223.3" y1="814.1" x2="1223.3" y2="838.7" stroke="#c01818" stroke-width="2.4"/>
<line x1="1214.8" y1="814.1" x2="1231.8" y2="814.1" stroke="#c01818" stroke-width="2.4"/>
<line x1="1214.8" y1="838.7" x2="1231.8" y2="838.7" stroke="#c01818" stroke-width="2.4"/>
<line x1="1245.2" y1="800.0" x2="1245.2" y2="825.4" stroke="#c01818" stroke-width="2.4"/>
<line x1="1236.7" y1="800.0" x2="1253.7" y2="800.0" stroke="#c01818" stroke-width="2.4"/>
<line x1="1236.7" y1="825.4" x2="1253.7" y2="825.4" stroke="#c01818" stroke-width="2.4"/>
<line x1="1267.1" y1="786.5" x2="1267.1" y2="809.2" stroke="#c01818" stroke-width="2.4"/>
<line x1="1258.6" y1="786.5" x2="1275.6" y2="786.5" stroke="#c01818" stroke-width="2.4"/>
<line x1="1258.6" y1="809.2" x2="1275.6" y2="809.2" stroke="#c01818" stroke-width="2.4"/>
<line x1="1289.0" y1="774.0" x2="1289.0" y2="793.5" stroke="#c01818" stroke-width="2.4"/>
<line x1="1280.5" y1="774.0" x2="1297.5" y2="774.0" stroke="#c01818" stroke-width="2.4"/>
<line x1="1280.5" y1="793.5" x2="1297.5" y2="793.5" stroke="#c01818" stroke-width="2.4"/>
<line x1="1310.9" y1="758.0" x2="1310.9" y2="775.0" stroke="#c01818" stroke-width="2.4"/>
<line x1="1302.4" y1="758.0" x2="1319.4" y2="758.0" stroke="#c01818" stroke-width="2.4"/>
<line x1="1302.4" y1="775.0" x2="1319.4" y2="775.0" stroke="#c01818" stroke-width="2.4"/>
<line x1="1332.8" y1="743.0" x2="1332.8" y2="759.0" stroke="#c01818" stroke-width="2.4"/>
<line x1="1324.3" y1="743.0" x2="1341.3" y2="743.0" stroke="#c01818" stroke-width="2.4"/>
<line x1="1324.3" y1="759.0" x2="1341.3" y2="759.0" stroke="#c01818" stroke-width="2.4"/>
<polyline points="894.8,692.0 916.7,692.0 938.6,692.0 960.5,692.0 982.4,692.0 1004.3,695.0 1026.2,701.5 1048.1,711.3 1070.0,737.8 1091.9,786.3 1113.8,823.0 1135.7,841.8 1157.6,845.7 1179.5,844.2 1201.4,834.0 1223.3,823.8 1245.2,811.3 1267.1,797.0 1289.0,779.4 1310.9,765.4 1332.8,751.0 1354.7,734.9 1376.6,721.6 1398.5,706.7 1420.4,695.8 1442.3,691.1" fill="none" stroke="#c01818" stroke-width="1.8"/>
<polygon points="886.8,684.5 902.8,684.5 894.8,699.5" fill="#f00"/>
<polygon points="908.7,684.5 924.7,684.5 916.7,699.5" fill="#f00"/>
<polygon points="930.6,684.5 946.6,684.5 938.6,699.5" fill="#f00"/>
<polygon points="952.5,684.5 968.5,684.5 960.5,699.5" fill="#f00"/>
<polygon points="974.4,684.5 990.4,684.5 982.4,699.5" fill="#f00"/>
<polygon points="996.3,687.5 1012.3,687.5 1004.3,702.5" fill="#f00"/>
<polygon points="1018.2,694.0 1034.2,694.0 1026.2,709.0" fill="#f00"/>
<polygon points="1040.1,703.8 1056.1,703.8 1048.1,718.8" fill="#f00"/>
<polygon points="1062.0,730.3 1078.0,730.3 1070.0,745.3" fill="#f00"/>
<polygon points="1083.9,778.8 1099.9,778.8 1091.9,793.8" fill="#f00"/>
<polygon points="1105.8,815.5 1121.8,815.5 1113.8,830.5" fill="#f00"/>
<polygon points="1127.7,834.3 1143.7,834.3 1135.7,849.3" fill="#f00"/>
<polygon points="1149.6,838.2 1165.6,838.2 1157.6,853.2" fill="#f00"/>
<polygon points="1171.5,836.7 1187.5,836.7 1179.5,851.7" fill="#f00"/>
<polygon points="1193.4,826.5 1209.4,826.5 1201.4,841.5" fill="#f00"/>
<polygon points="1215.3,816.3 1231.3,816.3 1223.3,831.3" fill="#f00"/>
<polygon points="1237.2,803.8 1253.2,803.8 1245.2,818.8" fill="#f00"/>
<polygon points="1259.1,789.5 1275.1,789.5 1267.1,804.5" fill="#f00"/>
<polygon points="1281.0,771.9 1297.0,771.9 1289.0,786.9" fill="#f00"/>
<polygon points="1302.9,757.9 1318.9,757.9 1310.9,772.9" fill="#f00"/>
<polygon points="1324.8,743.5 1340.8,743.5 1332.8,758.5" fill="#f00"/>
<polygon points="1346.7,727.4 1362.7,727.4 1354.7,742.4" fill="#f00"/>
<polygon points="1368.6,714.1 1384.6,714.1 1376.6,729.1" fill="#f00"/>
<polygon points="1390.5,699.2 1406.5,699.2 1398.5,714.2" fill="#f00"/>
<polygon points="1412.4,688.3 1428.4,688.3 1420.4,703.3" fill="#f00"/>
<polygon points="1434.3,683.6 1450.3,683.6 1442.3,698.6" fill="#f00"/>
<line x1="1321.5" y1="961.1" x2="1362.3" y2="961.1" stroke="#000" stroke-width="2.2"/>
<circle cx="1341.9" cy="961.1" r="8.3" fill="#000" stroke="none" stroke-width="0"/>
<line x1="1319.3" y1="1011.3" x2="1362.3" y2="1011.3" stroke="#c01818" stroke-width="2.2"/>
<polygon points="1332.5,1002.5 1349.5,1002.5 1341.0,1018.5" fill="#f00"/>
<text x="1388.0" y="970.9" font-size="33.7" font-weight="normal" textLength="106.2" lengthAdjust="spacingAndGlyphs" fill="#000">Control</text>
<text x="1386.9" y="1022.0" font-size="35.0" font-weight="normal" textLength="104.6" lengthAdjust="spacingAndGlyphs" fill="#000">R249Q</text>
<line x1="122.8" y1="1467.8" x2="122.8" y2="1920.5" stroke="#111" stroke-width="2.4"/>
<line x1="112.5" y1="1919.3" x2="731.5" y2="1919.3" stroke="#111" stroke-width="2.4"/>
<line x1="115.0" y1="1919.3" x2="122.8" y2="1919.3" stroke="#111" stroke-width="2.4"/>
<line x1="115.0" y1="1829.2" x2="122.8" y2="1829.2" stroke="#111" stroke-width="2.4"/>
<line x1="115.0" y1="1739.1" x2="122.8" y2="1739.1" stroke="#111" stroke-width="2.4"/>
<line x1="115.0" y1="1649.0" x2="122.8" y2="1649.0" stroke="#111" stroke-width="2.4"/>
<line x1="115.0" y1="1558.9" x2="122.8" y2="1558.9" stroke="#111" stroke-width="2.4"/>
<line x1="115.0" y1="1468.8" x2="122.8" y2="1468.8" stroke="#111" stroke-width="2.4"/>
<line x1="118.5" y1="1874.2" x2="122.8" y2="1874.2" stroke="#111" stroke-width="2.2"/>
<line x1="118.5" y1="1784.1" x2="122.8" y2="1784.1" stroke="#111" stroke-width="2.2"/>
<line x1="118.5" y1="1694.0" x2="122.8" y2="1694.0" stroke="#111" stroke-width="2.2"/>
<line x1="118.5" y1="1604.0" x2="122.8" y2="1604.0" stroke="#111" stroke-width="2.2"/>
<line x1="118.5" y1="1513.8" x2="122.8" y2="1513.8" stroke="#111" stroke-width="2.2"/>
<line x1="122.9" y1="1919.3" x2="122.9" y2="1925.5" stroke="#111" stroke-width="2.4"/>
<line x1="275.0" y1="1919.3" x2="275.0" y2="1925.5" stroke="#111" stroke-width="2.4"/>
<line x1="427.0" y1="1919.3" x2="427.0" y2="1925.5" stroke="#111" stroke-width="2.4"/>
<line x1="579.1" y1="1919.3" x2="579.1" y2="1925.5" stroke="#111" stroke-width="2.4"/>
<line x1="731.2" y1="1919.3" x2="731.2" y2="1925.5" stroke="#111" stroke-width="2.4"/>
<line x1="198.9" y1="1919.3" x2="198.9" y2="1924.0" stroke="#111" stroke-width="2.2"/>
<line x1="351.0" y1="1919.3" x2="351.0" y2="1924.0" stroke="#111" stroke-width="2.2"/>
<line x1="503.1" y1="1919.3" x2="503.1" y2="1924.0" stroke="#111" stroke-width="2.2"/>
<line x1="655.2" y1="1919.3" x2="655.2" y2="1924.0" stroke="#111" stroke-width="2.2"/>
<rect x="120" y="1750.3" width="6" height="2.9" fill="#fff"/>
<rect x="120" y="1800.6" width="6" height="3.5" fill="#fff"/>
<rect x="120" y="1835.7" width="6" height="2.9" fill="#fff"/>
<rect x="120" y="1885.4" width="6" height="2.9" fill="#fff"/>
<text x="51.3" y="1488.4" font-size="28.2" font-weight="normal" textLength="35.7" lengthAdjust="spacingAndGlyphs" fill="#1a1a1a" stroke="#1a1a1a" stroke-width="0.5">1.0</text>
<text x="48.7" y="1574.4" font-size="30.4" font-weight="normal" textLength="38.5" lengthAdjust="spacingAndGlyphs" fill="#1a1a1a" stroke="#1a1a1a" stroke-width="0.5">0.8</text>
<text x="53.5" y="1663.8" font-size="29.4" font-weight="normal" textLength="37.6" lengthAdjust="spacingAndGlyphs" fill="#1a1a1a" stroke="#1a1a1a" stroke-width="0.5">0.6</text>
<text x="55.3" y="1753.2" font-size="28.5" font-weight="normal" textLength="38.7" lengthAdjust="spacingAndGlyphs" fill="#1a1a1a" stroke="#1a1a1a" stroke-width="0.5">0.4</text>
<text x="55.3" y="1838.6" font-size="30.3" font-weight="normal" textLength="39.4" lengthAdjust="spacingAndGlyphs" fill="#1a1a1a" stroke="#1a1a1a" stroke-width="0.5">0.2</text>
<text x="78.8" y="1920.5" font-size="28.5" font-weight="normal" textLength="14.2" lengthAdjust="spacingAndGlyphs" fill="#1a1a1a" stroke="#1a1a1a" stroke-width="0.5">0</text>
<text x="96.4" y="1966.7" font-size="28.5" font-weight="normal" textLength="41.4" lengthAdjust="spacingAndGlyphs" fill="#1a1a1a" stroke="#1a1a1a" stroke-width="0.5">-80</text>
<text x="249.2" y="1966.7" font-size="28.5" font-weight="normal" textLength="40.9" lengthAdjust="spacingAndGlyphs" fill="#1a1a1a" stroke="#1a1a1a" stroke-width="0.5">-60</text>
<text x="402.1" y="1966.7" font-size="28.5" font-weight="normal" textLength="41.4" lengthAdjust="spacingAndGlyphs" fill="#1a1a1a" stroke="#1a1a1a" stroke-width="0.5">-40</text>
<text x="559.3" y="1966.7" font-size="28.5" font-weight="normal" textLength="40.9" lengthAdjust="spacingAndGlyphs" fill="#1a1a1a" stroke="#1a1a1a" stroke-width="0.5">-20</text>
<text x="723.4" y="1966.7" font-size="28.5" font-weight="normal" textLength="16.4" lengthAdjust="spacingAndGlyphs" fill="#1a1a1a" stroke="#1a1a1a" stroke-width="0.5">0</text>
<text x="229.8" y="2026.1" font-size="37.9" font-weight="normal" textLength="401.9" lengthAdjust="spacingAndGlyphs" fill="#1a1a1a" stroke="#1a1a1a" stroke-width="0.5">Membrane potential, mV</text>
<text transform="rotate(-90)" x="-1913.6" y="40.8" font-size="37.1" font-weight="normal" textLength="391.6" lengthAdjust="spacingAndGlyphs" fill="#1a1a1a" stroke="#1a1a1a" stroke-width="0.5">Normalized conductance</text>
<polyline points="207.9,1849.6 249.0,1849.6 249.0,1770.1 323.2,1770.1 323.2,1849.6 364.3,1849.6" fill="none" stroke="#8a8a8a" stroke-width="2"/>
<line x1="249.0" y1="1778.2" x2="323.2" y2="1778.2" stroke="#8a8a8a" stroke-width="2"/>
<line x1="249.0" y1="1786.3" x2="323.2" y2="1786.3" stroke="#8a8a8a" stroke-width="2"/>
<line x1="249.0" y1="1794.3" x2="323.2" y2="1794.3" stroke="#8a8a8a" stroke-width="2"/>
<line x1="249.0" y1="1802.4" x2="323.2" y2="1802.4" stroke="#8a8a8a" stroke-width="2"/>
<line x1="249.0" y1="1810.5" x2="323.2" y2="1810.5" stroke="#8a8a8a" stroke-width="2"/>
<line x1="249.0" y1="1818.6" x2="323.2" y2="1818.6" stroke="#8a8a8a" stroke-width="2"/>
<line x1="249.0" y1="1826.7" x2="323.2" y2="1826.7" stroke="#8a8a8a" stroke-width="2"/>
<line x1="249.0" y1="1834.7" x2="323.2" y2="1834.7" stroke="#8a8a8a" stroke-width="2"/>
<line x1="249.0" y1="1842.8" x2="323.2" y2="1842.8" stroke="#8a8a8a" stroke-width="2"/>
<text x="254.3" y="1753.1" font-size="21.9" font-weight="normal" textLength="65.0" lengthAdjust="spacingAndGlyphs" fill="#1a1a1a" stroke="#1a1a1a" stroke-width="0.5">40 ms</text>
<text x="143.3" y="1784.7" font-size="23.2" font-weight="normal" textLength="90.2" lengthAdjust="spacingAndGlyphs" fill="#1a1a1a" stroke="#1a1a1a" stroke-width="0.5">+ 60 mV</text>
<text x="326.5" y="1784.7" font-size="23.6" font-weight="normal" textLength="72.1" lengthAdjust="spacingAndGlyphs" fill="#1a1a1a" stroke="#1a1a1a" stroke-width="0.5">Δ5 mV</text>
<text x="149.2" y="1832.6" font-size="23.2" font-weight="normal" textLength="78.0" lengthAdjust="spacingAndGlyphs" fill="#1a1a1a" stroke="#1a1a1a" stroke-width="0.5">-80 mV</text>
<text x="130.9" y="1869.5" font-size="22.7" font-weight="normal" textLength="90.6" lengthAdjust="spacingAndGlyphs" fill="#1a1a1a" stroke="#1a1a1a" stroke-width="0.5">-100 mV</text>
<polyline points="122.9,1919.3 124.8,1919.3 126.7,1919.3 128.6,1919.3 130.5,1919.3 132.4,1919.2 134.3,1919.2 136.2,1919.2 138.1,1919.2 140.0,1919.2 141.9,1919.2 143.8,1919.2 145.7,1919.2 147.6,1919.2 149.5,1919.2 151.4,1919.2 153.3,1919.2 155.2,1919.2 157.1,1919.2 159.0,1919.2 160.9,1919.2 162.8,1919.2 164.7,1919.2 166.6,1919.2 168.5,1919.1 170.4,1919.1 172.3,1919.1 174.2,1919.1 176.1,1919.1 178.0,1919.1 179.9,1919.1 181.8,1919.1 183.7,1919.1 185.6,1919.1 187.5,1919.0 189.4,1919.0 191.3,1919.0 193.2,1919.0 195.1,1919.0 197.0,1919.0 198.9,1918.9 200.8,1918.9 202.7,1918.9 204.6,1918.9 206.5,1918.8 208.4,1918.8 210.3,1918.8 212.2,1918.8 214.1,1918.7 216.0,1918.7 217.9,1918.7 219.8,1918.6 221.7,1918.6 223.6,1918.5 225.5,1918.5 227.4,1918.5 229.3,1918.4 231.2,1918.4 233.1,1918.3 235.0,1918.2 236.9,1918.2 238.8,1918.1 240.7,1918.1 242.6,1918.0 244.5,1917.9 246.4,1917.8 248.3,1917.7 250.2,1917.7 252.1,1917.6 254.0,1917.5 256.0,1917.4 257.9,1917.3 259.8,1917.1 261.7,1917.0 263.6,1916.9 265.5,1916.7 267.4,1916.6 269.3,1916.4 271.2,1916.3 273.1,1916.1 275.0,1915.9 276.9,1915.7 278.8,1915.5 280.7,1915.3 282.6,1915.1 284.5,1914.9 286.4,1914.6 288.3,1914.4 290.2,1914.1 292.1,1913.8 294.0,1913.5 295.9,1913.1 297.8,1912.8 299.7,1912.4 301.6,1912.0 303.5,1911.6 305.4,1911.2 307.3,1910.7 309.2,1910.3 311.1,1909.8 313.0,1909.2 314.9,1908.7 316.8,1908.1 318.7,1907.4 320.6,1906.8 322.5,1906.1 324.4,1905.4 326.3,1904.6 328.2,1903.8 330.1,1902.9 332.0,1902.0 333.9,1901.1 335.8,1900.1 337.7,1899.0 339.6,1897.9 341.5,1896.8 343.4,1895.6 345.3,1894.3 347.2,1892.9 349.1,1891.5 351.0,1890.0 352.9,1888.5 354.8,1886.8 356.7,1885.1 358.6,1883.3 360.5,1881.4 362.4,1879.5 364.3,1877.4 366.2,1875.3 368.1,1873.0 370.0,1870.6 371.9,1868.2 373.8,1865.6 375.7,1862.9 377.6,1860.1 379.5,1857.2 381.4,1854.2 383.3,1851.0 385.2,1847.7 387.1,1844.3 389.0,1840.8 390.9,1837.1 392.8,1833.3 394.7,1829.4 396.6,1825.3 398.5,1821.1 400.4,1816.8 402.3,1812.3 404.2,1807.7 406.1,1803.0 408.0,1798.1 409.9,1793.2 411.8,1788.1 413.7,1782.8 415.6,1777.5 417.5,1772.0 419.4,1766.5 421.3,1760.8 423.2,1755.1 425.1,1749.2 427.0,1743.3 428.9,1737.3 430.8,1731.2 432.7,1725.1 434.6,1719.0 436.5,1712.8 438.4,1706.6 440.3,1700.3 442.2,1694.0 444.1,1687.8 446.1,1681.5 448.0,1675.3 449.9,1669.1 451.8,1663.0 453.7,1656.9 455.6,1650.8 457.5,1644.8 459.4,1638.9 461.3,1633.0 463.2,1627.3 465.1,1621.6 467.0,1616.1 468.9,1610.6 470.8,1605.3 472.7,1600.0 474.6,1594.9 476.5,1590.0 478.4,1585.1 480.3,1580.4 482.2,1575.8 484.1,1571.3 486.0,1567.0 487.9,1562.8 489.8,1558.7 491.7,1554.8 493.6,1551.0 495.5,1547.3 497.4,1543.8 499.3,1540.4 501.2,1537.1 503.1,1533.9 505.0,1530.9 506.9,1528.0 508.8,1525.2 510.7,1522.5 512.6,1519.9 514.5,1517.5 516.4,1515.1 518.3,1512.8 520.2,1510.7 522.1,1508.6 524.0,1506.7 525.9,1504.8 527.8,1503.0 529.7,1501.3 531.6,1499.6 533.5,1498.1 535.4,1496.6 537.3,1495.2 539.2,1493.8 541.1,1492.5 543.0,1491.3 544.9,1490.2 546.8,1489.1 548.7,1488.0 550.6,1487.0 552.5,1486.1 554.4,1485.2 556.3,1484.3 558.2,1483.5 560.1,1482.7 562.0,1482.0 563.9,1481.3 565.8,1480.7 567.7,1480.0 569.6,1479.4 571.5,1478.9 573.4,1478.3 575.3,1477.8 577.2,1477.4 579.1,1476.9 581.0,1476.5 582.9,1476.1 584.8,1475.7 586.7,1475.3 588.6,1475.0 590.5,1474.6 592.4,1474.3 594.3,1474.0 596.2,1473.7 598.1,1473.5 600.0,1473.2 601.9,1473.0 603.8,1472.8 605.7,1472.6 607.6,1472.4 609.5,1472.2 611.4,1472.0 613.3,1471.8 615.2,1471.7 617.1,1471.5 619.0,1471.4 620.9,1471.2 622.8,1471.1 624.7,1471.0 626.6,1470.8 628.5,1470.7 630.4,1470.6 632.3,1470.5 634.2,1470.4 636.2,1470.4 638.1,1470.3 640.0,1470.2 641.9,1470.1 643.8,1470.0 645.7,1470.0 647.6,1469.9 649.5,1469.9 651.4,1469.8 653.3,1469.7 655.2,1469.7 657.1,1469.6 659.0,1469.6 660.9,1469.6 662.8,1469.5 664.7,1469.5 666.6,1469.4 668.5,1469.4 670.4,1469.4 672.3,1469.3 674.2,1469.3 676.1,1469.3 678.0,1469.3 679.9,1469.2 681.8,1469.2 683.7,1469.2 685.6,1469.2 687.5,1469.1 689.4,1469.1 691.3,1469.1 693.2,1469.1 695.1,1469.1 697.0,1469.1 698.9,1469.0 700.8,1469.0 702.7,1469.0 704.6,1469.0 706.5,1469.0 708.4,1469.0 710.3,1469.0 712.2,1469.0 714.1,1469.0 716.0,1469.0 717.9,1468.9 719.8,1468.9 721.7,1468.9 723.6,1468.9 725.5,1468.9 727.4,1468.9 729.3,1468.9 731.2,1468.9" fill="none" stroke="#000" stroke-width="1.8"/>
<polyline points="122.9,1919.1 124.8,1919.1 126.7,1919.1 128.6,1919.1 130.5,1919.1 132.4,1919.1 134.3,1919.1 136.2,1919.1 138.1,1919.0 140.0,1919.0 141.9,1919.0 143.8,1919.0 145.7,1919.0 147.6,1919.0 149.5,1919.0 151.4,1919.0 153.3,1918.9 155.2,1918.9 157.1,1918.9 159.0,1918.9 160.9,1918.9 162.8,1918.9 164.7,1918.8 166.6,1918.8 168.5,1918.8 170.4,1918.8 172.3,1918.8 174.2,1918.7 176.1,1918.7 178.0,1918.7 179.9,1918.7 181.8,1918.6 183.7,1918.6 185.6,1918.6 187.5,1918.5 189.4,1918.5 191.3,1918.5 193.2,1918.4 195.1,1918.4 197.0,1918.4 198.9,1918.3 200.8,1918.3 202.7,1918.2 204.6,1918.2 206.5,1918.1 208.4,1918.1 210.3,1918.0 212.2,1918.0 214.1,1917.9 216.0,1917.9 217.9,1917.8 219.8,1917.8 221.7,1917.7 223.6,1917.6 225.5,1917.6 227.4,1917.5 229.3,1917.4 231.2,1917.3 233.1,1917.2 235.0,1917.2 236.9,1917.1 238.8,1917.0 240.7,1916.9 242.6,1916.8 244.5,1916.7 246.4,1916.5 248.3,1916.4 250.2,1916.3 252.1,1916.2 254.0,1916.1 256.0,1915.9 257.9,1915.8 259.8,1915.6 261.7,1915.5 263.6,1915.3 265.5,1915.1 267.4,1915.0 269.3,1914.8 271.2,1914.6 273.1,1914.4 275.0,1914.2 276.9,1914.0 278.8,1913.7 280.7,1913.5 282.6,1913.3 284.5,1913.0 286.4,1912.8 288.3,1912.5 290.2,1912.2 292.1,1911.9 294.0,1911.6 295.9,1911.3 297.8,1910.9 299.7,1910.6 301.6,1910.2 303.5,1909.8 305.4,1909.4 307.3,1909.0 309.2,1908.6 311.1,1908.2 313.0,1907.7 314.9,1907.2 316.8,1906.7 318.7,1906.2 320.6,1905.7 322.5,1905.1 324.4,1904.5 326.3,1903.9 328.2,1903.3 330.1,1902.6 332.0,1901.9 333.9,1901.2 335.8,1900.5 337.7,1899.7 339.6,1898.9 341.5,1898.1 343.4,1897.2 345.3,1896.4 347.2,1895.4 349.1,1894.5 351.0,1893.5 352.9,1892.4 354.8,1891.4 356.7,1890.3 358.6,1889.1 360.5,1887.9 362.4,1886.7 364.3,1885.4 366.2,1884.1 368.1,1882.7 370.0,1881.3 371.9,1879.8 373.8,1878.2 375.7,1876.7 377.6,1875.0 379.5,1873.3 381.4,1871.6 383.3,1869.8 385.2,1867.9 387.1,1866.0 389.0,1864.0 390.9,1861.9 392.8,1859.8 394.7,1857.6 396.6,1855.4 398.5,1853.1 400.4,1850.7 402.3,1848.2 404.2,1845.7 406.1,1843.1 408.0,1840.4 409.9,1837.7 411.8,1834.9 413.7,1832.0 415.6,1829.0 417.5,1825.9 419.4,1822.8 421.3,1819.6 423.2,1816.4 425.1,1813.0 427.0,1809.6 428.9,1806.1 430.8,1802.5 432.7,1798.9 434.6,1795.2 436.5,1791.4 438.4,1787.5 440.3,1783.6 442.2,1779.6 444.1,1775.6 446.1,1771.5 448.0,1767.3 449.9,1763.1 451.8,1758.8 453.7,1754.5 455.6,1750.1 457.5,1745.7 459.4,1741.2 461.3,1736.7 463.2,1732.2 465.1,1727.6 467.0,1723.0 468.9,1718.4 470.8,1713.7 472.7,1709.0 474.6,1704.4 476.5,1699.7 478.4,1695.0 480.3,1690.3 482.2,1685.6 484.1,1680.9 486.0,1676.3 487.9,1671.6 489.8,1667.0 491.7,1662.4 493.6,1657.8 495.5,1653.2 497.4,1648.7 499.3,1644.2 501.2,1639.8 503.1,1635.4 505.0,1631.0 506.9,1626.7 508.8,1622.5 510.7,1618.3 512.6,1614.1 514.5,1610.1 516.4,1606.1 518.3,1602.1 520.2,1598.2 522.1,1594.4 524.0,1590.7 525.9,1587.0 527.8,1583.4 529.7,1579.9 531.6,1576.5 533.5,1573.1 535.4,1569.8 537.3,1566.6 539.2,1563.4 541.1,1560.3 543.0,1557.3 544.9,1554.4 546.8,1551.5 548.7,1548.8 550.6,1546.1 552.5,1543.4 554.4,1540.9 556.3,1538.4 558.2,1536.0 560.1,1533.6 562.0,1531.3 563.9,1529.1 565.8,1527.0 567.7,1524.9 569.6,1522.9 571.5,1520.9 573.4,1519.1 575.3,1517.2 577.2,1515.5 579.1,1513.7 581.0,1512.1 582.9,1510.5 584.8,1508.9 586.7,1507.4 588.6,1506.0 590.5,1504.6 592.4,1503.2 594.3,1501.9 596.2,1500.7 598.1,1499.5 600.0,1498.3 601.9,1497.2 603.8,1496.1 605.7,1495.0 607.6,1494.0 609.5,1493.0 611.4,1492.1 613.3,1491.2 615.2,1490.3 617.1,1489.5 619.0,1488.7 620.9,1487.9 622.8,1487.2 624.7,1486.4 626.6,1485.8 628.5,1485.1 630.4,1484.4 632.3,1483.8 634.2,1483.2 636.2,1482.7 638.1,1482.1 640.0,1481.6 641.9,1481.1 643.8,1480.6 645.7,1480.1 647.6,1479.7 649.5,1479.2 651.4,1478.8 653.3,1478.4 655.2,1478.0 657.1,1477.7 659.0,1477.3 660.9,1477.0 662.8,1476.6 664.7,1476.3 666.6,1476.0 668.5,1475.7 670.4,1475.5 672.3,1475.2 674.2,1474.9 676.1,1474.7 678.0,1474.4 679.9,1474.2 681.8,1474.0 683.7,1473.8 685.6,1473.6 687.5,1473.4 689.4,1473.2 691.3,1473.0 693.2,1472.9 695.1,1472.7 697.0,1472.5 698.9,1472.4 700.8,1472.2 702.7,1472.1 704.6,1472.0 706.5,1471.8 708.4,1471.7 710.3,1471.6 712.2,1471.5 714.1,1471.4 716.0,1471.3 717.9,1471.2 719.8,1471.1 721.7,1471.0 723.6,1470.9 725.5,1470.8 727.4,1470.7 729.3,1470.6 731.2,1470.6" fill="none" stroke="#b81c1c" stroke-width="1.6"/>
<clipPath id="clipD"><rect x="100" y="1440" width="631" height="500"/></clipPath><g clip-path="url(#clipD)">
<line x1="389.0" y1="1848.7" x2="389.0" y2="1868.0" stroke="#000" stroke-width="2"/>
<line x1="384.5" y1="1848.7" x2="393.5" y2="1848.7" stroke="#000" stroke-width="2"/>
<line x1="384.5" y1="1868.0" x2="393.5" y2="1868.0" stroke="#000" stroke-width="2"/>
<line x1="427.0" y1="1703.5" x2="427.0" y2="1747.1" stroke="#000" stroke-width="2"/>
<line x1="422.5" y1="1703.5" x2="431.5" y2="1703.5" stroke="#000" stroke-width="2"/>
<line x1="422.5" y1="1747.1" x2="431.5" y2="1747.1" stroke="#000" stroke-width="2"/>
<line x1="465.1" y1="1600.0" x2="465.1" y2="1635.0" stroke="#000" stroke-width="2"/>
<line x1="460.6" y1="1600.0" x2="469.6" y2="1600.0" stroke="#000" stroke-width="2"/>
<line x1="460.6" y1="1635.0" x2="469.6" y2="1635.0" stroke="#000" stroke-width="2"/>
<line x1="503.1" y1="1541.0" x2="503.1" y2="1563.0" stroke="#000" stroke-width="2"/>
<line x1="498.6" y1="1541.0" x2="507.6" y2="1541.0" stroke="#000" stroke-width="2"/>
<line x1="498.6" y1="1563.0" x2="507.6" y2="1563.0" stroke="#000" stroke-width="2"/>
<line x1="541.1" y1="1508.0" x2="541.1" y2="1521.0" stroke="#000" stroke-width="2"/>
<line x1="536.6" y1="1508.0" x2="545.6" y2="1508.0" stroke="#000" stroke-width="2"/>
<line x1="536.6" y1="1521.0" x2="545.6" y2="1521.0" stroke="#000" stroke-width="2"/>
<circle cx="122.9" cy="1917.0" r="6.3" fill="#000" stroke="none" stroke-width="0"/>
<circle cx="160.9" cy="1917.0" r="6.3" fill="#000" stroke="none" stroke-width="0"/>
<circle cx="198.9" cy="1917.0" r="6.3" fill="#000" stroke="none" stroke-width="0"/>
<circle cx="236.9" cy="1917.0" r="6.3" fill="#000" stroke="none" stroke-width="0"/>
<circle cx="275.0" cy="1916.0" r="6.3" fill="#000" stroke="none" stroke-width="0"/>
<circle cx="313.0" cy="1913.0" r="6.3" fill="#000" stroke="none" stroke-width="0"/>
<circle cx="351.0" cy="1897.6" r="6.3" fill="#000" stroke="none" stroke-width="0"/>
<circle cx="389.0" cy="1858.5" r="6.3" fill="#000" stroke="none" stroke-width="0"/>
<circle cx="427.0" cy="1725.0" r="6.3" fill="#000" stroke="none" stroke-width="0"/>
<circle cx="465.1" cy="1618.5" r="6.3" fill="#000" stroke="none" stroke-width="0"/>
<circle cx="503.1" cy="1552.2" r="6.3" fill="#000" stroke="none" stroke-width="0"/>
<circle cx="541.1" cy="1514.8" r="6.3" fill="#000" stroke="none" stroke-width="0"/>
<circle cx="579.1" cy="1493.8" r="6.3" fill="#000" stroke="none" stroke-width="0"/>
<circle cx="617.1" cy="1481.9" r="6.3" fill="#000" stroke="none" stroke-width="0"/>
<circle cx="655.2" cy="1475.5" r="6.3" fill="#000" stroke="none" stroke-width="0"/>
<circle cx="693.2" cy="1471.0" r="6.3" fill="#000" stroke="none" stroke-width="0"/>
<circle cx="731.2" cy="1477.0" r="6.3" fill="#000" stroke="none" stroke-width="0"/>
<line x1="389.0" y1="1858.0" x2="389.0" y2="1886.5" stroke="#b81c1c" stroke-width="2"/>
<line x1="384.5" y1="1858.0" x2="393.5" y2="1858.0" stroke="#b81c1c" stroke-width="2"/>
<line x1="384.5" y1="1886.5" x2="393.5" y2="1886.5" stroke="#b81c1c" stroke-width="2"/>
<line x1="427.0" y1="1800.5" x2="427.0" y2="1839.0" stroke="#b81c1c" stroke-width="2"/>
<line x1="422.5" y1="1800.5" x2="431.5" y2="1800.5" stroke="#b81c1c" stroke-width="2"/>
<line x1="422.5" y1="1839.0" x2="431.5" y2="1839.0" stroke="#b81c1c" stroke-width="2"/>
<line x1="465.1" y1="1701.5" x2="465.1" y2="1746.4" stroke="#b81c1c" stroke-width="2"/>
<line x1="460.6" y1="1701.5" x2="469.6" y2="1701.5" stroke="#b81c1c" stroke-width="2"/>
<line x1="460.6" y1="1746.4" x2="469.6" y2="1746.4" stroke="#b81c1c" stroke-width="2"/>
<line x1="503.1" y1="1615.0" x2="503.1" y2="1652.5" stroke="#b81c1c" stroke-width="2"/>
<line x1="498.6" y1="1615.0" x2="507.6" y2="1615.0" stroke="#b81c1c" stroke-width="2"/>
<line x1="498.6" y1="1652.5" x2="507.6" y2="1652.5" stroke="#b81c1c" stroke-width="2"/>
<line x1="541.1" y1="1554.9" x2="541.1" y2="1584.0" stroke="#b81c1c" stroke-width="2"/>
<line x1="536.6" y1="1554.9" x2="545.6" y2="1554.9" stroke="#b81c1c" stroke-width="2"/>
<line x1="536.6" y1="1584.0" x2="545.6" y2="1584.0" stroke="#b81c1c" stroke-width="2"/>
<line x1="579.1" y1="1518.4" x2="579.1" y2="1535.7" stroke="#b81c1c" stroke-width="2"/>
<line x1="574.6" y1="1518.4" x2="583.6" y2="1518.4" stroke="#b81c1c" stroke-width="2"/>
<line x1="574.6" y1="1535.7" x2="583.6" y2="1535.7" stroke="#b81c1c" stroke-width="2"/>
<polygon points="115.9,1909.5 129.9,1909.5 122.9,1922.5" fill="#f00"/>
<polygon points="153.9,1909.5 167.9,1909.5 160.9,1922.5" fill="#f00"/>
<polygon points="191.9,1909.5 205.9,1909.5 198.9,1922.5" fill="#f00"/>
<polygon points="229.9,1909.5 243.9,1909.5 236.9,1922.5" fill="#f00"/>
<polygon points="268.0,1908.5 282.0,1908.5 275.0,1921.5" fill="#f00"/>
<polygon points="306.0,1903.5 320.0,1903.5 313.0,1916.5" fill="#f00"/>
<polygon points="344.0,1891.1 358.0,1891.1 351.0,1904.1" fill="#f00"/>
<polygon points="382.0,1865.0 396.0,1865.0 389.0,1878.0" fill="#f00"/>
<polygon points="420.0,1813.5 434.0,1813.5 427.0,1826.5" fill="#f00"/>
<polygon points="458.1,1717.1 472.1,1717.1 465.1,1730.1" fill="#f00"/>
<polygon points="496.1,1627.7 510.1,1627.7 503.1,1640.7" fill="#f00"/>
<polygon points="534.1,1563.9 548.1,1563.9 541.1,1576.9" fill="#f00"/>
<polygon points="572.1,1520.1 586.1,1520.1 579.1,1533.1" fill="#f00"/>
<polygon points="610.1,1492.8 624.1,1492.8 617.1,1505.8" fill="#f00"/>
<polygon points="648.2,1478.2 662.2,1478.2 655.2,1491.2" fill="#f00"/>
<polygon points="686.2,1474.5 700.2,1474.5 693.2,1487.5" fill="#f00"/>
<polygon points="724.2,1476.5 738.2,1476.5 731.2,1489.5" fill="#f00"/>
</g>
<circle cx="582.4" cy="1795.5" r="7.5" fill="#000" stroke="none" stroke-width="0"/>
<polygon points="572.4,1824.5 590.4,1824.5 581.4,1841.5" fill="#f00"/>
<text x="604.7" y="1806.0" font-size="25.2" font-weight="normal" textLength="80.0" lengthAdjust="spacingAndGlyphs" fill="#1a1a1a" stroke="#1a1a1a" stroke-width="0.5">Control</text>
<text x="603.9" y="1841.9" font-size="26.2" font-weight="normal" textLength="76.6" lengthAdjust="spacingAndGlyphs" fill="#1a1a1a" stroke="#1a1a1a" stroke-width="0.5">R249Q</text>
<line x1="915.6" y1="1467.9" x2="915.6" y2="1922.4" stroke="#111" stroke-width="2.4"/>
<line x1="905.5" y1="1914.6" x2="1518.0" y2="1914.6" stroke="#111" stroke-width="2.4"/>
<line x1="905.5" y1="1915.3" x2="915.6" y2="1915.3" stroke="#111" stroke-width="2.4"/>
<line x1="905.5" y1="1826.1" x2="915.6" y2="1826.1" stroke="#111" stroke-width="2.4"/>
<line x1="905.5" y1="1736.8" x2="915.6" y2="1736.8" stroke="#111" stroke-width="2.4"/>
<line x1="905.5" y1="1647.6" x2="915.6" y2="1647.6" stroke="#111" stroke-width="2.4"/>
<line x1="905.5" y1="1558.3" x2="915.6" y2="1558.3" stroke="#111" stroke-width="2.4"/>
<line x1="905.5" y1="1469.1" x2="915.6" y2="1469.1" stroke="#111" stroke-width="2.4"/>
<line x1="910.3" y1="1870.7" x2="915.6" y2="1870.7" stroke="#111" stroke-width="2.2"/>
<line x1="910.3" y1="1781.4" x2="915.6" y2="1781.4" stroke="#111" stroke-width="2.2"/>
<line x1="910.3" y1="1692.2" x2="915.6" y2="1692.2" stroke="#111" stroke-width="2.2"/>
<line x1="910.3" y1="1603.0" x2="915.6" y2="1603.0" stroke="#111" stroke-width="2.2"/>
<line x1="910.3" y1="1513.7" x2="915.6" y2="1513.7" stroke="#111" stroke-width="2.2"/>
<line x1="915.5" y1="1914.6" x2="915.5" y2="1922.0" stroke="#111" stroke-width="2.4"/>
<line x1="1025.0" y1="1914.6" x2="1025.0" y2="1922.0" stroke="#111" stroke-width="2.4"/>
<line x1="1134.5" y1="1914.6" x2="1134.5" y2="1922.0" stroke="#111" stroke-width="2.4"/>
<line x1="1244.0" y1="1914.6" x2="1244.0" y2="1922.0" stroke="#111" stroke-width="2.4"/>
<line x1="1353.5" y1="1914.6" x2="1353.5" y2="1922.0" stroke="#111" stroke-width="2.4"/>
<line x1="1463.0" y1="1914.6" x2="1463.0" y2="1922.0" stroke="#111" stroke-width="2.4"/>
<line x1="970.2" y1="1914.6" x2="970.2" y2="1919.5" stroke="#111" stroke-width="2.2"/>
<line x1="1079.8" y1="1914.6" x2="1079.8" y2="1919.5" stroke="#111" stroke-width="2.2"/>
<line x1="1189.2" y1="1914.6" x2="1189.2" y2="1919.5" stroke="#111" stroke-width="2.2"/>
<line x1="1298.8" y1="1914.6" x2="1298.8" y2="1919.5" stroke="#111" stroke-width="2.2"/>
<line x1="1408.2" y1="1914.6" x2="1408.2" y2="1919.5" stroke="#111" stroke-width="2.2"/>
<line x1="1517.8" y1="1914.6" x2="1517.8" y2="1919.5" stroke="#111" stroke-width="2.2"/>
<text x="839.4" y="1495.0" font-size="28.4" font-weight="normal" textLength="37.9" lengthAdjust="spacingAndGlyphs" fill="#1a1a1a" stroke="#1a1a1a" stroke-width="0.5">1.0</text>
<text x="839.6" y="1580.3" font-size="26.4" font-weight="normal" textLength="37.7" lengthAdjust="spacingAndGlyphs" fill="#1a1a1a" stroke="#1a1a1a" stroke-width="0.5">0.8</text>
<text x="840.9" y="1670.4" font-size="27.4" font-weight="normal" textLength="37.7" lengthAdjust="spacingAndGlyphs" fill="#1a1a1a" stroke="#1a1a1a" stroke-width="0.5">0.6</text>
<text x="845.9" y="1760.0" font-size="28.2" font-weight="normal" textLength="38.1" lengthAdjust="spacingAndGlyphs" fill="#1a1a1a" stroke="#1a1a1a" stroke-width="0.5">0.4</text>
<text x="845.9" y="1845.3" font-size="28.4" font-weight="normal" textLength="39.5" lengthAdjust="spacingAndGlyphs" fill="#1a1a1a" stroke="#1a1a1a" stroke-width="0.5">0.2</text>
<text x="869.3" y="1927.9" font-size="28.4" font-weight="normal" textLength="14.2" lengthAdjust="spacingAndGlyphs" fill="#1a1a1a" stroke="#1a1a1a" stroke-width="0.5">0</text>
<text x="883.0" y="1966.1" font-size="27.5" font-weight="normal" textLength="55.6" lengthAdjust="spacingAndGlyphs" fill="#1a1a1a" stroke="#1a1a1a" stroke-width="0.5">-120</text>
<text x="999.5" y="1966.1" font-size="27.5" font-weight="normal" textLength="56.6" lengthAdjust="spacingAndGlyphs" fill="#1a1a1a" stroke="#1a1a1a" stroke-width="0.5">-100</text>
<text x="1114.8" y="1966.1" font-size="27.5" font-weight="normal" textLength="39.4" lengthAdjust="spacingAndGlyphs" fill="#1a1a1a" stroke="#1a1a1a" stroke-width="0.5">-80</text>
<text x="1220.2" y="1966.1" font-size="27.5" font-weight="normal" textLength="39.8" lengthAdjust="spacingAndGlyphs" fill="#1a1a1a" stroke="#1a1a1a" stroke-width="0.5">-60</text>
<text x="1335.3" y="1966.1" font-size="27.5" font-weight="normal" textLength="40.7" lengthAdjust="spacingAndGlyphs" fill="#1a1a1a" stroke="#1a1a1a" stroke-width="0.5">-40</text>
<text x="1442.8" y="1960.6" font-size="25.7" font-weight="normal" textLength="40.7" lengthAdjust="spacingAndGlyphs" fill="#1a1a1a" stroke="#1a1a1a" stroke-width="0.5">-20</text>
<text x="1043.4" y="2025.9" font-size="35.3" font-weight="normal" textLength="269.9" lengthAdjust="spacingAndGlyphs" fill="#1a1a1a" stroke="#1a1a1a" stroke-width="0.5">P1 potential, mV</text>
<text transform="rotate(-90)" x="-1865.7" y="831.6" font-size="36.3" font-weight="normal" textLength="299.7" lengthAdjust="spacingAndGlyphs" fill="#1a1a1a" stroke="#1a1a1a" stroke-width="0.5">Normalized current</text>
<polyline points="1015.9,1899.2 1048.0,1899.2" fill="none" stroke="#8a8a8a" stroke-width="2"/>
<rect x="1048" y="1829.8" width="51.4" height="76.2" fill="none" stroke="#8a8a8a" stroke-width="2"/>
<line x1="1048.0" y1="1837.4" x2="1099.4" y2="1837.4" stroke="#8a8a8a" stroke-width="2"/>
<line x1="1048.0" y1="1845.0" x2="1099.4" y2="1845.0" stroke="#8a8a8a" stroke-width="2"/>
<line x1="1048.0" y1="1852.7" x2="1099.4" y2="1852.7" stroke="#8a8a8a" stroke-width="2"/>
<line x1="1048.0" y1="1860.3" x2="1099.4" y2="1860.3" stroke="#8a8a8a" stroke-width="2"/>
<line x1="1048.0" y1="1867.9" x2="1099.4" y2="1867.9" stroke="#8a8a8a" stroke-width="2"/>
<line x1="1048.0" y1="1875.5" x2="1099.4" y2="1875.5" stroke="#8a8a8a" stroke-width="2"/>
<line x1="1048.0" y1="1883.1" x2="1099.4" y2="1883.1" stroke="#8a8a8a" stroke-width="2"/>
<line x1="1048.0" y1="1890.8" x2="1099.4" y2="1890.8" stroke="#8a8a8a" stroke-width="2"/>
<line x1="1048.0" y1="1898.4" x2="1099.4" y2="1898.4" stroke="#8a8a8a" stroke-width="2"/>
<polyline points="1099.4,1837.9 1117.5,1837.9 1117.5,1894.7 1153.0,1894.7" fill="none" stroke="#8a8a8a" stroke-width="2"/>
<text x="1061.6" y="1782.0" font-size="23.4" font-weight="normal" textLength="25.5" lengthAdjust="spacingAndGlyphs" fill="#1a1a1a" stroke="#1a1a1a" stroke-width="0.5">P1</text>
<text x="1008.9" y="1819.3" font-size="25.5" font-weight="normal" textLength="79.7" lengthAdjust="spacingAndGlyphs" fill="#1a1a1a" stroke="#1a1a1a" stroke-width="0.5">500 ms</text>
<text x="1097.9" y="1812.3" font-size="24.7" font-weight="normal" textLength="29.3" lengthAdjust="spacingAndGlyphs" fill="#1a1a1a" stroke="#1a1a1a" stroke-width="0.5">P2</text>
<text x="1122.7" y="1833.2" font-size="25.5" font-weight="normal" textLength="67.2" lengthAdjust="spacingAndGlyphs" fill="#1a1a1a" stroke="#1a1a1a" stroke-width="0.5">20 ms</text>
<text x="951.2" y="1844.7" font-size="24.4" font-weight="normal" textLength="75.8" lengthAdjust="spacingAndGlyphs" fill="#1a1a1a" stroke="#1a1a1a" stroke-width="0.5">-20 mV</text>
<text x="1123.3" y="1869.6" font-size="25.7" font-weight="normal" textLength="77.8" lengthAdjust="spacingAndGlyphs" fill="#1a1a1a" stroke="#1a1a1a" stroke-width="0.5">-15 mV</text>
<text x="916.5" y="1895.5" font-size="25.5" font-weight="normal" textLength="91.8" lengthAdjust="spacingAndGlyphs" fill="#1a1a1a" stroke="#1a1a1a" stroke-width="0.5">-120 mV</text>
<polyline points="915.5,1471.1 916.9,1471.1 918.2,1471.2 919.6,1471.2 921.0,1471.3 922.3,1471.4 923.7,1471.4 925.1,1471.5 926.5,1471.6 927.8,1471.7 929.2,1471.7 930.6,1471.8 931.9,1471.9 933.3,1472.0 934.7,1472.1 936.0,1472.2 937.4,1472.3 938.8,1472.4 940.1,1472.5 941.5,1472.6 942.9,1472.7 944.2,1472.8 945.6,1472.9 947.0,1473.0 948.4,1473.1 949.7,1473.3 951.1,1473.4 952.5,1473.5 953.8,1473.7 955.2,1473.8 956.6,1473.9 957.9,1474.1 959.3,1474.2 960.7,1474.4 962.0,1474.6 963.4,1474.7 964.8,1474.9 966.1,1475.1 967.5,1475.3 968.9,1475.5 970.2,1475.6 971.6,1475.8 973.0,1476.0 974.4,1476.3 975.7,1476.5 977.1,1476.7 978.5,1476.9 979.8,1477.2 981.2,1477.4 982.6,1477.7 983.9,1477.9 985.3,1478.2 986.7,1478.5 988.0,1478.8 989.4,1479.1 990.8,1479.4 992.1,1479.7 993.5,1480.0 994.9,1480.3 996.3,1480.6 997.6,1481.0 999.0,1481.4 1000.4,1481.7 1001.7,1482.1 1003.1,1482.5 1004.5,1482.9 1005.8,1483.3 1007.2,1483.7 1008.6,1484.2 1009.9,1484.6 1011.3,1485.1 1012.7,1485.6 1014.0,1486.1 1015.4,1486.6 1016.8,1487.1 1018.2,1487.6 1019.5,1488.2 1020.9,1488.7 1022.3,1489.3 1023.6,1489.9 1025.0,1490.5 1026.4,1491.1 1027.7,1491.8 1029.1,1492.5 1030.5,1493.1 1031.8,1493.8 1033.2,1494.6 1034.6,1495.3 1036.0,1496.1 1037.3,1496.8 1038.7,1497.7 1040.1,1498.5 1041.4,1499.3 1042.8,1500.2 1044.2,1501.1 1045.5,1502.0 1046.9,1502.9 1048.3,1503.9 1049.6,1504.9 1051.0,1505.9 1052.4,1507.0 1053.7,1508.0 1055.1,1509.1 1056.5,1510.3 1057.8,1511.4 1059.2,1512.6 1060.6,1513.8 1062.0,1515.0 1063.3,1516.3 1064.7,1517.6 1066.1,1519.0 1067.4,1520.3 1068.8,1521.7 1070.2,1523.2 1071.5,1524.6 1072.9,1526.1 1074.3,1527.6 1075.6,1529.2 1077.0,1530.8 1078.4,1532.5 1079.8,1534.1 1081.1,1535.8 1082.5,1537.6 1083.9,1539.4 1085.2,1541.2 1086.6,1543.1 1088.0,1545.0 1089.3,1546.9 1090.7,1548.9 1092.1,1550.9 1093.4,1553.0 1094.8,1555.1 1096.2,1557.2 1097.5,1559.4 1098.9,1561.6 1100.3,1563.8 1101.7,1566.1 1103.0,1568.5 1104.4,1570.8 1105.8,1573.3 1107.1,1575.7 1108.5,1578.2 1109.9,1580.7 1111.2,1583.3 1112.6,1585.9 1114.0,1588.6 1115.3,1591.3 1116.7,1594.0 1118.1,1596.7 1119.4,1599.5 1120.8,1602.4 1122.2,1605.2 1123.5,1608.1 1124.9,1611.1 1126.3,1614.0 1127.7,1617.0 1129.0,1620.1 1130.4,1623.1 1131.8,1626.2 1133.1,1629.3 1134.5,1632.5 1135.9,1635.6 1137.2,1638.8 1138.6,1642.1 1140.0,1645.3 1141.3,1648.6 1142.7,1651.8 1144.1,1655.1 1145.5,1658.5 1146.8,1661.8 1148.2,1665.1 1149.6,1668.5 1150.9,1671.9 1152.3,1675.2 1153.7,1678.6 1155.0,1682.0 1156.4,1685.4 1157.8,1688.8 1159.1,1692.2 1160.5,1695.6 1161.9,1699.0 1163.2,1702.4 1164.6,1705.8 1166.0,1709.2 1167.3,1712.5 1168.7,1715.9 1170.1,1719.3 1171.5,1722.6 1172.8,1725.9 1174.2,1729.3 1175.6,1732.6 1176.9,1735.8 1178.3,1739.1 1179.7,1742.3 1181.0,1745.6 1182.4,1748.8 1183.8,1751.9 1185.1,1755.1 1186.5,1758.2 1187.9,1761.3 1189.2,1764.3 1190.6,1767.4 1192.0,1770.4 1193.4,1773.3 1194.7,1776.3 1196.1,1779.2 1197.5,1782.0 1198.8,1784.9 1200.2,1787.7 1201.6,1790.4 1202.9,1793.1 1204.3,1795.8 1205.7,1798.5 1207.0,1801.1 1208.4,1803.7 1209.8,1806.2 1211.2,1808.7 1212.5,1811.1 1213.9,1813.6 1215.3,1815.9 1216.6,1818.3 1218.0,1820.6 1219.4,1822.8 1220.7,1825.0 1222.1,1827.2 1223.5,1829.3 1224.8,1831.4 1226.2,1833.5 1227.6,1835.5 1228.9,1837.5 1230.3,1839.4 1231.7,1841.3 1233.0,1843.2 1234.4,1845.0 1235.8,1846.8 1237.2,1848.6 1238.5,1850.3 1239.9,1851.9 1241.3,1853.6 1242.6,1855.2 1244.0,1856.8 1245.4,1858.3 1246.7,1859.8 1248.1,1861.2 1249.5,1862.7 1250.8,1864.1 1252.2,1865.4 1253.6,1866.8 1255.0,1868.1 1256.3,1869.4 1257.7,1870.6 1259.1,1871.8 1260.4,1873.0 1261.8,1874.1 1263.2,1875.3 1264.5,1876.4 1265.9,1877.4 1267.3,1878.5 1268.6,1879.5 1270.0,1880.5 1271.4,1881.5 1272.7,1882.4 1274.1,1883.3 1275.5,1884.2 1276.8,1885.1 1278.2,1885.9 1279.6,1886.7 1281.0,1887.6 1282.3,1888.3 1283.7,1889.1 1285.1,1889.8 1286.4,1890.6 1287.8,1891.3 1289.2,1891.9 1290.5,1892.6 1291.9,1893.3 1293.3,1893.9 1294.6,1894.5 1296.0,1895.1 1297.4,1895.7 1298.8,1896.2 1300.1,1896.8 1301.5,1897.3 1302.9,1897.8 1304.2,1898.3 1305.6,1898.8 1307.0,1899.3 1308.3,1899.8 1309.7,1900.2 1311.1,1900.7 1312.4,1901.1 1313.8,1901.5 1315.2,1901.9 1316.5,1902.3 1317.9,1902.7 1319.3,1903.0 1320.7,1903.4 1322.0,1903.8 1323.4,1904.1 1324.8,1904.4 1326.1,1904.7 1327.5,1905.0 1328.9,1905.3 1330.2,1905.6 1331.6,1905.9 1333.0,1906.2 1334.3,1906.5 1335.7,1906.7 1337.1,1907.0 1338.4,1907.2 1339.8,1907.5 1341.2,1907.7 1342.5,1907.9 1343.9,1908.1 1345.3,1908.4 1346.7,1908.6 1348.0,1908.8 1349.4,1908.9 1350.8,1909.1 1352.1,1909.3 1353.5,1909.5 1354.9,1909.7 1356.2,1909.8 1357.6,1910.0 1359.0,1910.2 1360.3,1910.3 1361.7,1910.5 1363.1,1910.6 1364.5,1910.7 1365.8,1910.9 1367.2,1911.0 1368.6,1911.1 1369.9,1911.3 1371.3,1911.4 1372.7,1911.5 1374.0,1911.6 1375.4,1911.7 1376.8,1911.8 1378.1,1911.9 1379.5,1912.0 1380.9,1912.1 1382.2,1912.2 1383.6,1912.3 1385.0,1912.4 1386.3,1912.5 1387.7,1912.6 1389.1,1912.7 1390.5,1912.7 1391.8,1912.8 1393.2,1912.9 1394.6,1913.0 1395.9,1913.0 1397.3,1913.1 1398.7,1913.2 1400.0,1913.2 1401.4,1913.3 1402.8,1913.3 1404.1,1913.4 1405.5,1913.5 1406.9,1913.5 1408.2,1913.6 1409.6,1913.6 1411.0,1913.7 1412.4,1913.7 1413.7,1913.8 1415.1,1913.8 1416.5,1913.9 1417.8,1913.9 1419.2,1913.9 1420.6,1914.0 1421.9,1914.0 1423.3,1914.1 1424.7,1914.1 1426.0,1914.1 1427.4,1914.2 1428.8,1914.2 1430.2,1914.2 1431.5,1914.3 1432.9,1914.3 1434.3,1914.3 1435.6,1914.4 1437.0,1914.4 1438.4,1914.4 1439.7,1914.4 1441.1,1914.5 1442.5,1914.5 1443.8,1914.5 1445.2,1914.5 1446.6,1914.6 1447.9,1914.6 1449.3,1914.6 1450.7,1914.6 1452.0,1914.6 1453.4,1914.7 1454.8,1914.7 1456.2,1914.7 1457.5,1914.7 1458.9,1914.7 1460.3,1914.8 1461.6,1914.8 1463.0,1914.8 1464.4,1914.8 1465.7,1914.8 1467.1,1914.8 1468.5,1914.8 1469.8,1914.9 1471.2,1914.9 1472.6,1914.9 1473.9,1914.9 1475.3,1914.9 1476.7,1914.9 1478.1,1914.9 1479.4,1914.9 1480.8,1915.0 1482.2,1915.0 1483.5,1915.0 1484.9,1915.0 1486.3,1915.0 1487.6,1915.0 1489.0,1915.0 1490.4,1915.0 1491.7,1915.0 1493.1,1915.0 1494.5,1915.0 1495.8,1915.1 1497.2,1915.1 1498.6,1915.1 1500.0,1915.1 1501.3,1915.1 1502.7,1915.1 1504.1,1915.1 1505.4,1915.1 1506.8,1915.1 1508.2,1915.1 1509.5,1915.1 1510.9,1915.1 1512.3,1915.1 1513.6,1915.1 1515.0,1915.1 1516.4,1915.1 1517.8,1915.1" fill="none" stroke="#000" stroke-width="1.8"/>
<polyline points="915.5,1472.4 916.9,1472.5 918.2,1472.6 919.6,1472.7 921.0,1472.8 922.3,1472.9 923.7,1473.0 925.1,1473.0 926.5,1473.2 927.8,1473.3 929.2,1473.4 930.6,1473.5 931.9,1473.6 933.3,1473.7 934.7,1473.8 936.0,1473.9 937.4,1474.1 938.8,1474.2 940.1,1474.3 941.5,1474.5 942.9,1474.6 944.2,1474.7 945.6,1474.9 947.0,1475.0 948.4,1475.2 949.7,1475.3 951.1,1475.5 952.5,1475.7 953.8,1475.8 955.2,1476.0 956.6,1476.2 957.9,1476.3 959.3,1476.5 960.7,1476.7 962.0,1476.9 963.4,1477.1 964.8,1477.3 966.1,1477.5 967.5,1477.7 968.9,1478.0 970.2,1478.2 971.6,1478.4 973.0,1478.7 974.4,1478.9 975.7,1479.1 977.1,1479.4 978.5,1479.7 979.8,1479.9 981.2,1480.2 982.6,1480.5 983.9,1480.8 985.3,1481.1 986.7,1481.4 988.0,1481.7 989.4,1482.0 990.8,1482.3 992.1,1482.7 993.5,1483.0 994.9,1483.3 996.3,1483.7 997.6,1484.1 999.0,1484.4 1000.4,1484.8 1001.7,1485.2 1003.1,1485.6 1004.5,1486.0 1005.8,1486.5 1007.2,1486.9 1008.6,1487.3 1009.9,1487.8 1011.3,1488.3 1012.7,1488.7 1014.0,1489.2 1015.4,1489.7 1016.8,1490.2 1018.2,1490.7 1019.5,1491.3 1020.9,1491.8 1022.3,1492.4 1023.6,1493.0 1025.0,1493.5 1026.4,1494.1 1027.7,1494.7 1029.1,1495.4 1030.5,1496.0 1031.8,1496.7 1033.2,1497.3 1034.6,1498.0 1036.0,1498.7 1037.3,1499.4 1038.7,1500.2 1040.1,1500.9 1041.4,1501.7 1042.8,1502.5 1044.2,1503.3 1045.5,1504.1 1046.9,1504.9 1048.3,1505.8 1049.6,1506.6 1051.0,1507.5 1052.4,1508.4 1053.7,1509.4 1055.1,1510.3 1056.5,1511.3 1057.8,1512.3 1059.2,1513.3 1060.6,1514.3 1062.0,1515.4 1063.3,1516.4 1064.7,1517.5 1066.1,1518.7 1067.4,1519.8 1068.8,1521.0 1070.2,1522.1 1071.5,1523.4 1072.9,1524.6 1074.3,1525.8 1075.6,1527.1 1077.0,1528.4 1078.4,1529.8 1079.8,1531.1 1081.1,1532.5 1082.5,1533.9 1083.9,1535.3 1085.2,1536.8 1086.6,1538.3 1088.0,1539.8 1089.3,1541.3 1090.7,1542.9 1092.1,1544.5 1093.4,1546.1 1094.8,1547.7 1096.2,1549.4 1097.5,1551.1 1098.9,1552.8 1100.3,1554.6 1101.7,1556.4 1103.0,1558.2 1104.4,1560.0 1105.8,1561.9 1107.1,1563.8 1108.5,1565.7 1109.9,1567.7 1111.2,1569.7 1112.6,1571.7 1114.0,1573.7 1115.3,1575.8 1116.7,1577.9 1118.1,1580.0 1119.4,1582.1 1120.8,1584.3 1122.2,1586.5 1123.5,1588.7 1124.9,1591.0 1126.3,1593.3 1127.7,1595.6 1129.0,1597.9 1130.4,1600.3 1131.8,1602.7 1133.1,1605.1 1134.5,1607.5 1135.9,1610.0 1137.2,1612.4 1138.6,1615.0 1140.0,1617.5 1141.3,1620.0 1142.7,1622.6 1144.1,1625.2 1145.5,1627.8 1146.8,1630.4 1148.2,1633.1 1149.6,1635.7 1150.9,1638.4 1152.3,1641.1 1153.7,1643.8 1155.0,1646.6 1156.4,1649.3 1157.8,1652.1 1159.1,1654.8 1160.5,1657.6 1161.9,1660.4 1163.2,1663.2 1164.6,1666.0 1166.0,1668.9 1167.3,1671.7 1168.7,1674.5 1170.1,1677.4 1171.5,1680.2 1172.8,1683.1 1174.2,1685.9 1175.6,1688.8 1176.9,1691.6 1178.3,1694.5 1179.7,1697.3 1181.0,1700.2 1182.4,1703.0 1183.8,1705.9 1185.1,1708.7 1186.5,1711.6 1187.9,1714.4 1189.2,1717.2 1190.6,1720.1 1192.0,1722.9 1193.4,1725.7 1194.7,1728.4 1196.1,1731.2 1197.5,1734.0 1198.8,1736.7 1200.2,1739.5 1201.6,1742.2 1202.9,1744.9 1204.3,1747.6 1205.7,1750.3 1207.0,1752.9 1208.4,1755.6 1209.8,1758.2 1211.2,1760.8 1212.5,1763.3 1213.9,1765.9 1215.3,1768.4 1216.6,1771.0 1218.0,1773.4 1219.4,1775.9 1220.7,1778.4 1222.1,1780.8 1223.5,1783.2 1224.8,1785.5 1226.2,1787.9 1227.6,1790.2 1228.9,1792.5 1230.3,1794.8 1231.7,1797.0 1233.0,1799.2 1234.4,1801.4 1235.8,1803.6 1237.2,1805.7 1238.5,1807.8 1239.9,1809.9 1241.3,1811.9 1242.6,1813.9 1244.0,1815.9 1245.4,1817.9 1246.7,1819.8 1248.1,1821.7 1249.5,1823.6 1250.8,1825.5 1252.2,1827.3 1253.6,1829.1 1255.0,1830.9 1256.3,1832.6 1257.7,1834.3 1259.1,1836.0 1260.4,1837.7 1261.8,1839.3 1263.2,1840.9 1264.5,1842.5 1265.9,1844.0 1267.3,1845.5 1268.6,1847.0 1270.0,1848.5 1271.4,1849.9 1272.7,1851.3 1274.1,1852.7 1275.5,1854.1 1276.8,1855.4 1278.2,1856.8 1279.6,1858.0 1281.0,1859.3 1282.3,1860.6 1283.7,1861.8 1285.1,1863.0 1286.4,1864.1 1287.8,1865.3 1289.2,1866.4 1290.5,1867.5 1291.9,1868.6 1293.3,1869.7 1294.6,1870.7 1296.0,1871.7 1297.4,1872.7 1298.8,1873.7 1300.1,1874.6 1301.5,1875.6 1302.9,1876.5 1304.2,1877.4 1305.6,1878.3 1307.0,1879.1 1308.3,1880.0 1309.7,1880.8 1311.1,1881.6 1312.4,1882.4 1313.8,1883.2 1315.2,1883.9 1316.5,1884.7 1317.9,1885.4 1319.3,1886.1 1320.7,1886.8 1322.0,1887.5 1323.4,1888.1 1324.8,1888.8 1326.1,1889.4 1327.5,1890.0 1328.9,1890.6 1330.2,1891.2 1331.6,1891.8 1333.0,1892.4 1334.3,1892.9 1335.7,1893.4 1337.1,1894.0 1338.4,1894.5 1339.8,1895.0 1341.2,1895.5 1342.5,1896.0 1343.9,1896.4 1345.3,1896.9 1346.7,1897.3 1348.0,1897.8 1349.4,1898.2 1350.8,1898.6 1352.1,1899.0 1353.5,1899.4 1354.9,1899.8 1356.2,1900.2 1357.6,1900.6 1359.0,1900.9 1360.3,1901.3 1361.7,1901.6 1363.1,1901.9 1364.5,1902.3 1365.8,1902.6 1367.2,1902.9 1368.6,1903.2 1369.9,1903.5 1371.3,1903.8 1372.7,1904.1 1374.0,1904.4 1375.4,1904.6 1376.8,1904.9 1378.1,1905.1 1379.5,1905.4 1380.9,1905.6 1382.2,1905.9 1383.6,1906.1 1385.0,1906.3 1386.3,1906.6 1387.7,1906.8 1389.1,1907.0 1390.5,1907.2 1391.8,1907.4 1393.2,1907.6 1394.6,1907.8 1395.9,1908.0 1397.3,1908.2 1398.7,1908.3 1400.0,1908.5 1401.4,1908.7 1402.8,1908.8 1404.1,1909.0 1405.5,1909.2 1406.9,1909.3 1408.2,1909.5 1409.6,1909.6 1411.0,1909.8 1412.4,1909.9 1413.7,1910.0 1415.1,1910.2 1416.5,1910.3 1417.8,1910.4 1419.2,1910.5 1420.6,1910.7 1421.9,1910.8 1423.3,1910.9 1424.7,1911.0 1426.0,1911.1 1427.4,1911.2 1428.8,1911.3 1430.2,1911.4 1431.5,1911.5 1432.9,1911.6 1434.3,1911.7 1435.6,1911.8 1437.0,1911.9 1438.4,1912.0 1439.7,1912.0 1441.1,1912.1 1442.5,1912.2 1443.8,1912.3 1445.2,1912.4 1446.6,1912.4 1447.9,1912.5 1449.3,1912.6 1450.7,1912.6 1452.0,1912.7 1453.4,1912.8 1454.8,1912.8 1456.2,1912.9 1457.5,1913.0 1458.9,1913.0 1460.3,1913.1 1461.6,1913.1 1463.0,1913.2 1464.4,1913.2 1465.7,1913.3 1467.1,1913.3 1468.5,1913.4 1469.8,1913.4 1471.2,1913.5 1472.6,1913.5 1473.9,1913.6 1475.3,1913.6 1476.7,1913.7 1478.1,1913.7 1479.4,1913.7 1480.8,1913.8 1482.2,1913.8 1483.5,1913.9 1484.9,1913.9 1486.3,1913.9 1487.6,1914.0 1489.0,1914.0 1490.4,1914.0 1491.7,1914.1 1493.1,1914.1 1494.5,1914.1 1495.8,1914.2 1497.2,1914.2 1498.6,1914.2 1500.0,1914.2 1501.3,1914.3 1502.7,1914.3 1504.1,1914.3 1505.4,1914.3 1506.8,1914.4 1508.2,1914.4 1509.5,1914.4 1510.9,1914.4 1512.3,1914.5 1513.6,1914.5 1515.0,1914.5 1516.4,1914.5 1517.8,1914.5" fill="none" stroke="#b81c1c" stroke-width="1.6"/>
<clipPath id="clipE"><rect x="900" y="1440" width="618" height="500"/></clipPath><g clip-path="url(#clipE)">
<line x1="1134.5" y1="1619.0" x2="1134.5" y2="1655.0" stroke="#000" stroke-width="2"/>
<line x1="1130.0" y1="1619.0" x2="1139.0" y2="1619.0" stroke="#000" stroke-width="2"/>
<line x1="1130.0" y1="1655.0" x2="1139.0" y2="1655.0" stroke="#000" stroke-width="2"/>
<line x1="1161.9" y1="1692.9" x2="1161.9" y2="1726.5" stroke="#000" stroke-width="2"/>
<line x1="1157.4" y1="1692.9" x2="1166.4" y2="1692.9" stroke="#000" stroke-width="2"/>
<line x1="1157.4" y1="1726.5" x2="1166.4" y2="1726.5" stroke="#000" stroke-width="2"/>
<line x1="1189.2" y1="1759.0" x2="1189.2" y2="1790.3" stroke="#000" stroke-width="2"/>
<line x1="1184.8" y1="1759.0" x2="1193.8" y2="1759.0" stroke="#000" stroke-width="2"/>
<line x1="1184.8" y1="1790.3" x2="1193.8" y2="1790.3" stroke="#000" stroke-width="2"/>
<line x1="1216.6" y1="1816.6" x2="1216.6" y2="1835.4" stroke="#000" stroke-width="2"/>
<line x1="1212.1" y1="1816.6" x2="1221.1" y2="1816.6" stroke="#000" stroke-width="2"/>
<line x1="1212.1" y1="1835.4" x2="1221.1" y2="1835.4" stroke="#000" stroke-width="2"/>
<line x1="1244.0" y1="1848.7" x2="1244.0" y2="1866.0" stroke="#000" stroke-width="2"/>
<line x1="1239.5" y1="1848.7" x2="1248.5" y2="1848.7" stroke="#000" stroke-width="2"/>
<line x1="1239.5" y1="1866.0" x2="1248.5" y2="1866.0" stroke="#000" stroke-width="2"/>
<line x1="1025.0" y1="1476.0" x2="1025.0" y2="1490.0" stroke="#000" stroke-width="2"/>
<line x1="1020.5" y1="1476.0" x2="1029.5" y2="1476.0" stroke="#000" stroke-width="2"/>
<line x1="1020.5" y1="1490.0" x2="1029.5" y2="1490.0" stroke="#000" stroke-width="2"/>
<line x1="1052.4" y1="1494.0" x2="1052.4" y2="1509.0" stroke="#000" stroke-width="2"/>
<line x1="1047.9" y1="1494.0" x2="1056.9" y2="1494.0" stroke="#000" stroke-width="2"/>
<line x1="1047.9" y1="1509.0" x2="1056.9" y2="1509.0" stroke="#000" stroke-width="2"/>
<line x1="1079.8" y1="1526.0" x2="1079.8" y2="1543.0" stroke="#000" stroke-width="2"/>
<line x1="1075.2" y1="1526.0" x2="1084.2" y2="1526.0" stroke="#000" stroke-width="2"/>
<line x1="1075.2" y1="1543.0" x2="1084.2" y2="1543.0" stroke="#000" stroke-width="2"/>
<line x1="1107.1" y1="1564.0" x2="1107.1" y2="1584.0" stroke="#000" stroke-width="2"/>
<line x1="1102.6" y1="1564.0" x2="1111.6" y2="1564.0" stroke="#000" stroke-width="2"/>
<line x1="1102.6" y1="1584.0" x2="1111.6" y2="1584.0" stroke="#000" stroke-width="2"/>
<line x1="1517.8" y1="1889.5" x2="1517.8" y2="1899.6" stroke="#000" stroke-width="2"/>
<line x1="1513.2" y1="1889.5" x2="1522.2" y2="1889.5" stroke="#000" stroke-width="2"/>
<line x1="1513.2" y1="1899.6" x2="1522.2" y2="1899.6" stroke="#000" stroke-width="2"/>
<circle cx="915.5" cy="1471.4" r="5.7" fill="#000" stroke="none" stroke-width="0"/>
<circle cx="942.9" cy="1473.8" r="5.7" fill="#000" stroke="none" stroke-width="0"/>
<circle cx="970.2" cy="1474.5" r="5.7" fill="#000" stroke="none" stroke-width="0"/>
<circle cx="997.6" cy="1478.5" r="5.7" fill="#000" stroke="none" stroke-width="0"/>
<circle cx="1025.0" cy="1483.1" r="5.7" fill="#000" stroke="none" stroke-width="0"/>
<circle cx="1052.4" cy="1501.9" r="5.7" fill="#000" stroke="none" stroke-width="0"/>
<circle cx="1079.8" cy="1534.7" r="5.7" fill="#000" stroke="none" stroke-width="0"/>
<circle cx="1107.1" cy="1573.8" r="5.7" fill="#000" stroke="none" stroke-width="0"/>
<circle cx="1134.5" cy="1636.9" r="5.7" fill="#000" stroke="none" stroke-width="0"/>
<circle cx="1161.9" cy="1709.3" r="5.7" fill="#000" stroke="none" stroke-width="0"/>
<circle cx="1189.2" cy="1774.5" r="5.7" fill="#000" stroke="none" stroke-width="0"/>
<circle cx="1216.6" cy="1824.4" r="5.7" fill="#000" stroke="none" stroke-width="0"/>
<circle cx="1244.0" cy="1858.0" r="5.7" fill="#000" stroke="none" stroke-width="0"/>
<circle cx="1271.4" cy="1874.5" r="5.7" fill="#000" stroke="none" stroke-width="0"/>
<circle cx="1298.8" cy="1883.1" r="5.7" fill="#000" stroke="none" stroke-width="0"/>
<circle cx="1326.1" cy="1890.9" r="5.7" fill="#000" stroke="none" stroke-width="0"/>
<circle cx="1353.5" cy="1894.8" r="5.7" fill="#000" stroke="none" stroke-width="0"/>
<circle cx="1380.9" cy="1899.5" r="5.7" fill="#000" stroke="none" stroke-width="0"/>
<circle cx="1408.2" cy="1905.0" r="5.7" fill="#000" stroke="none" stroke-width="0"/>
<circle cx="1435.6" cy="1908.7" r="5.7" fill="#000" stroke="none" stroke-width="0"/>
<circle cx="1463.0" cy="1909.2" r="5.7" fill="#000" stroke="none" stroke-width="0"/>
<circle cx="1490.4" cy="1909.7" r="5.7" fill="#000" stroke="none" stroke-width="0"/>
<circle cx="1517.8" cy="1894.5" r="5.7" fill="#000" stroke="none" stroke-width="0"/>
<line x1="970.2" y1="1474.0" x2="970.2" y2="1490.2" stroke="#b81c1c" stroke-width="2"/>
<line x1="965.8" y1="1474.0" x2="974.8" y2="1474.0" stroke="#b81c1c" stroke-width="2"/>
<line x1="965.8" y1="1490.2" x2="974.8" y2="1490.2" stroke="#b81c1c" stroke-width="2"/>
<line x1="997.6" y1="1480.0" x2="997.6" y2="1503.5" stroke="#b81c1c" stroke-width="2"/>
<line x1="993.1" y1="1480.0" x2="1002.1" y2="1480.0" stroke="#b81c1c" stroke-width="2"/>
<line x1="993.1" y1="1503.5" x2="1002.1" y2="1503.5" stroke="#b81c1c" stroke-width="2"/>
<line x1="1025.0" y1="1494.9" x2="1025.0" y2="1519.1" stroke="#b81c1c" stroke-width="2"/>
<line x1="1020.5" y1="1494.9" x2="1029.5" y2="1494.9" stroke="#b81c1c" stroke-width="2"/>
<line x1="1020.5" y1="1519.1" x2="1029.5" y2="1519.1" stroke="#b81c1c" stroke-width="2"/>
<line x1="1052.4" y1="1505.0" x2="1052.4" y2="1540.2" stroke="#b81c1c" stroke-width="2"/>
<line x1="1047.9" y1="1505.0" x2="1056.9" y2="1505.0" stroke="#b81c1c" stroke-width="2"/>
<line x1="1047.9" y1="1540.2" x2="1056.9" y2="1540.2" stroke="#b81c1c" stroke-width="2"/>
<line x1="1079.8" y1="1517.5" x2="1079.8" y2="1561.3" stroke="#b81c1c" stroke-width="2"/>
<line x1="1075.2" y1="1517.5" x2="1084.2" y2="1517.5" stroke="#b81c1c" stroke-width="2"/>
<line x1="1075.2" y1="1561.3" x2="1084.2" y2="1561.3" stroke="#b81c1c" stroke-width="2"/>
<line x1="1107.1" y1="1544.9" x2="1107.1" y2="1592.6" stroke="#b81c1c" stroke-width="2"/>
<line x1="1102.6" y1="1544.9" x2="1111.6" y2="1544.9" stroke="#b81c1c" stroke-width="2"/>
<line x1="1102.6" y1="1592.6" x2="1111.6" y2="1592.6" stroke="#b81c1c" stroke-width="2"/>
<line x1="1134.5" y1="1583.5" x2="1134.5" y2="1632.0" stroke="#b81c1c" stroke-width="2"/>
<line x1="1130.0" y1="1583.5" x2="1139.0" y2="1583.5" stroke="#b81c1c" stroke-width="2"/>
<line x1="1130.0" y1="1632.0" x2="1139.0" y2="1632.0" stroke="#b81c1c" stroke-width="2"/>
<line x1="1161.9" y1="1639.7" x2="1161.9" y2="1684.3" stroke="#b81c1c" stroke-width="2"/>
<line x1="1157.4" y1="1639.7" x2="1166.4" y2="1639.7" stroke="#b81c1c" stroke-width="2"/>
<line x1="1157.4" y1="1684.3" x2="1166.4" y2="1684.3" stroke="#b81c1c" stroke-width="2"/>
<line x1="1189.2" y1="1706.2" x2="1189.2" y2="1744.5" stroke="#b81c1c" stroke-width="2"/>
<line x1="1184.8" y1="1706.2" x2="1193.8" y2="1706.2" stroke="#b81c1c" stroke-width="2"/>
<line x1="1184.8" y1="1744.5" x2="1193.8" y2="1744.5" stroke="#b81c1c" stroke-width="2"/>
<line x1="1216.6" y1="1763.3" x2="1216.6" y2="1797.1" stroke="#b81c1c" stroke-width="2"/>
<line x1="1212.1" y1="1763.3" x2="1221.1" y2="1763.3" stroke="#b81c1c" stroke-width="2"/>
<line x1="1212.1" y1="1797.1" x2="1221.1" y2="1797.1" stroke="#b81c1c" stroke-width="2"/>
<line x1="1244.0" y1="1806.4" x2="1244.0" y2="1836.2" stroke="#b81c1c" stroke-width="2"/>
<line x1="1239.5" y1="1806.4" x2="1248.5" y2="1806.4" stroke="#b81c1c" stroke-width="2"/>
<line x1="1239.5" y1="1836.2" x2="1248.5" y2="1836.2" stroke="#b81c1c" stroke-width="2"/>
<line x1="1271.4" y1="1833.0" x2="1271.4" y2="1861.2" stroke="#b81c1c" stroke-width="2"/>
<line x1="1266.9" y1="1833.0" x2="1275.9" y2="1833.0" stroke="#b81c1c" stroke-width="2"/>
<line x1="1266.9" y1="1861.2" x2="1275.9" y2="1861.2" stroke="#b81c1c" stroke-width="2"/>
<line x1="1298.8" y1="1851.8" x2="1298.8" y2="1872.0" stroke="#b81c1c" stroke-width="2"/>
<line x1="1294.2" y1="1851.8" x2="1303.2" y2="1851.8" stroke="#b81c1c" stroke-width="2"/>
<line x1="1294.2" y1="1872.0" x2="1303.2" y2="1872.0" stroke="#b81c1c" stroke-width="2"/>
<line x1="1326.1" y1="1865.1" x2="1326.1" y2="1882.0" stroke="#b81c1c" stroke-width="2"/>
<line x1="1321.6" y1="1865.1" x2="1330.6" y2="1865.1" stroke="#b81c1c" stroke-width="2"/>
<line x1="1321.6" y1="1882.0" x2="1330.6" y2="1882.0" stroke="#b81c1c" stroke-width="2"/>
<line x1="1353.5" y1="1880.7" x2="1353.5" y2="1892.0" stroke="#b81c1c" stroke-width="2"/>
<line x1="1349.0" y1="1880.7" x2="1358.0" y2="1880.7" stroke="#b81c1c" stroke-width="2"/>
<line x1="1349.0" y1="1892.0" x2="1358.0" y2="1892.0" stroke="#b81c1c" stroke-width="2"/>
<line x1="1517.8" y1="1902.6" x2="1517.8" y2="1912.7" stroke="#b81c1c" stroke-width="2"/>
<line x1="1513.2" y1="1902.6" x2="1522.2" y2="1902.6" stroke="#b81c1c" stroke-width="2"/>
<line x1="1513.2" y1="1912.7" x2="1522.2" y2="1912.7" stroke="#b81c1c" stroke-width="2"/>
<polygon points="909.0,1465.4 922.0,1465.4 915.5,1477.4" fill="#f00"/>
<polygon points="936.4,1470.1 949.4,1470.1 942.9,1482.1" fill="#f00"/>
<polygon points="963.8,1475.6 976.8,1475.6 970.2,1487.6" fill="#f00"/>
<polygon points="991.1,1485.7 1004.1,1485.7 997.6,1497.7" fill="#f00"/>
<polygon points="1018.5,1498.2 1031.5,1498.2 1025.0,1510.2" fill="#f00"/>
<polygon points="1045.9,1514.7 1058.9,1514.7 1052.4,1526.7" fill="#f00"/>
<polygon points="1073.2,1530.3 1086.2,1530.3 1079.8,1542.3" fill="#f00"/>
<polygon points="1100.6,1561.6 1113.6,1561.6 1107.1,1573.6" fill="#f00"/>
<polygon points="1128.0,1603.5 1141.0,1603.5 1134.5,1615.5" fill="#f00"/>
<polygon points="1155.4,1657.2 1168.4,1657.2 1161.9,1669.2" fill="#f00"/>
<polygon points="1182.8,1718.2 1195.8,1718.2 1189.2,1730.2" fill="#f00"/>
<polygon points="1210.1,1772.6 1223.1,1772.6 1216.6,1784.6" fill="#f00"/>
<polygon points="1237.5,1814.5 1250.5,1814.5 1244.0,1826.5" fill="#f00"/>
<polygon points="1264.9,1839.5 1277.9,1839.5 1271.4,1851.5" fill="#f00"/>
<polygon points="1292.2,1856.0 1305.2,1856.0 1298.8,1868.0" fill="#f00"/>
<polygon points="1319.6,1868.5 1332.6,1868.5 1326.1,1880.5" fill="#f00"/>
<polygon points="1347.0,1881.0 1360.0,1881.0 1353.5,1893.0" fill="#f00"/>
<polygon points="1374.4,1893.5 1387.4,1893.5 1380.9,1905.5" fill="#f00"/>
<polygon points="1401.8,1899.6 1414.8,1899.6 1408.2,1911.6" fill="#f00"/>
<polygon points="1429.1,1902.7 1442.1,1902.7 1435.6,1914.7" fill="#f00"/>
<polygon points="1456.5,1903.2 1469.5,1903.2 1463.0,1915.2" fill="#f00"/>
<polygon points="1483.9,1903.7 1496.9,1903.7 1490.4,1915.7" fill="#f00"/>
<polygon points="1511.2,1901.6 1524.2,1901.6 1517.8,1913.6" fill="#f00"/>
</g>
<circle cx="1366.1" cy="1717.9" r="7.5" fill="#000" stroke="none" stroke-width="0"/>
<polygon points="1355.8,1746.0 1373.8,1746.0 1364.8,1763.0" fill="#f00"/>
<text x="1392.5" y="1727.6" font-size="24.4" font-weight="normal" textLength="80.0" lengthAdjust="spacingAndGlyphs" fill="#1a1a1a" stroke="#1a1a1a" stroke-width="0.5">Control</text>
<text x="1390.1" y="1762.0" font-size="25.4" font-weight="normal" textLength="76.1" lengthAdjust="spacingAndGlyphs" fill="#1a1a1a" stroke="#1a1a1a" stroke-width="0.5">R249Q</text>
</svg>
</body></html>
